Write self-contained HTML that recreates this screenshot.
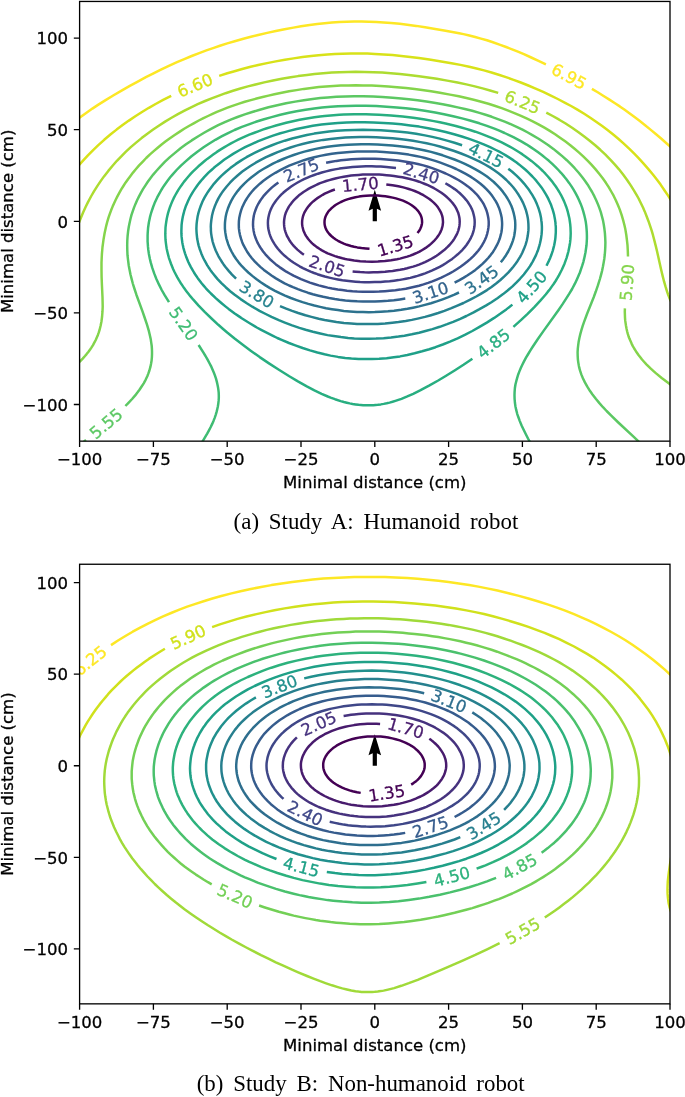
<!DOCTYPE html>
<html lang="en"><head><meta charset="utf-8"><title>Contour plots: minimal distance</title>
<style>html,body{margin:0;padding:0;background:#fff}body{width:685px;height:1097px;overflow:hidden;position:relative}svg{position:absolute;left:0;top:0;display:block;will-change:transform;-webkit-font-smoothing:antialiased}svg text{font-family:"DejaVu Sans","Liberation Sans",sans-serif}svg .cap text{font-family:"Liberation Serif","DejaVu Serif",serif;font-size:22.9px;word-spacing:4.1px;fill:#000}</style></head><body>
<svg width="685" height="1097" viewBox="0 0 685 1097">
<polygon fill="#000" points="372.70,221.30 372.70,208.70 368.50,210.80 374.80,189.80 381.10,210.80 376.90,208.70 376.90,221.30"/>
<clipPath id="clipA"><rect x="79.60" y="1.45" width="590.40" height="439.70"/></clipPath>
<g clip-path="url(#clipA)" fill="none" stroke-width="2.48" stroke-linecap="butt" stroke-linejoin="round">
<path stroke="#440154" d="M369.5 248.7L365.8 248.4L361.5 248.0L357.3 247.4L354.1 246.8L351.0 246.0L346.9 244.8L343.8 243.6L341.1 242.4L338.0 240.8L335.8 239.5L333.4 237.8L331.3 236.0L329.3 234.0L327.9 232.3L326.7 230.4L325.8 228.6L325.1 226.7L324.9 225.8L324.6 224.3L324.5 222.3L324.6 220.3L325.0 218.3L325.4 216.9L325.8 216.0L326.8 214.0L328.0 212.1L329.4 210.3L331.4 208.3L333.5 206.6L335.9 204.8L338.1 203.5L340.9 202.0L342.8 201.2L345.1 200.2L348.1 199.1L351.3 198.2L355.4 197.2L358.9 196.6L362.8 196.1L366.1 195.8L370.3 195.5L373.6 195.5L377.8 195.6L382.1 196.0L385.3 196.3L389.5 197.0L392.7 197.6L395.9 198.4L399.9 199.6L403.0 200.7L406.2 202.1L408.9 203.5L411.7 205.2L413.7 206.7L415.8 208.5L417.5 210.3L419.0 212.3L420.1 214.0L420.5 214.8L421.3 216.7L421.8 218.6L422.0 220.4L422.1 222.4L421.9 223.9L421.7 224.9L421.2 226.8L420.4 228.6L419.2 230.8L417.5 233.0"/>
<path stroke="#481769" d="M386.3 184.5L392.5 185.3L398.4 186.3L403.3 187.4L405.9 188.1L408.8 189.0L411.6 189.9L414.7 191.0L419.1 192.9L420.8 193.8L423.5 195.2L427.1 197.5L429.4 199.0L431.0 200.3L432.3 201.4L434.0 202.9L435.4 204.3L436.7 205.8L438.1 207.6L439.2 209.3L439.8 210.3L440.9 212.3L441.5 213.9L442.2 215.9L442.6 217.6L442.8 219.3L442.9 220.5L443.0 222.3L442.8 224.0L442.6 225.8L442.1 227.7L441.6 229.4L441.1 230.5L440.3 232.4L439.3 234.1L438.2 235.8L436.8 237.8L435.3 239.5L433.8 241.2L432.5 242.4L430.9 243.9L429.3 245.2L427.9 246.3L425.7 247.9L421.9 250.2L419.5 251.6L417.4 252.6L413.1 254.5L410.3 255.6L407.2 256.6L402.6 257.9L400.0 258.6L397.0 259.2L391.1 260.2L384.9 261.0L380.9 261.3L377.9 261.5L371.9 261.7L365.9 261.6L360.2 261.2L354.2 260.5L348.3 259.6L345.3 259.0L342.4 258.3L337.8 257.0L335.0 256.1L332.4 255.2L327.7 253.3L325.9 252.5L323.3 251.1L321.5 250.1L319.4 248.8L317.3 247.4L315.5 246.1L314.1 245.0L312.2 243.3L311.2 242.3L309.5 240.5L308.0 238.7L307.0 237.3L306.0 235.9L305.0 234.1L304.2 232.3L303.4 230.5L302.9 228.5L302.5 226.8L302.2 225.1L302.1 223.9L302.1 222.1L302.2 220.4L302.5 218.6L302.9 216.7L303.5 214.8L304.2 213.1L304.7 212.0L305.7 210.3L306.9 208.4L308.1 206.8L309.1 205.6L310.6 203.9L311.6 202.9L313.5 201.2L315.6 199.5L317.0 198.4L320.4 196.2L322.7 194.8L324.7 193.7L326.5 192.9L329.3 191.6L332.0 190.5L334.9 189.5"/>
<path stroke="#472c7a" d="M303.9 254.8L301.8 253.3L299.5 251.4L297.4 249.6L295.4 247.7L293.7 245.9L292.1 244.0L290.6 242.0L289.1 239.7L288.0 237.7L287.0 236.0L286.0 233.4L285.3 231.3L284.7 229.3L284.3 226.9L284.1 224.9L284.0 222.1L284.2 219.7L284.5 217.7L284.9 215.7L285.7 213.1L286.5 211.2L287.7 208.8L288.9 206.6L290.1 204.9L291.6 202.9L293.0 201.2L294.7 199.4L296.7 197.5L298.7 195.6L301.1 193.8L303.5 192.0L306.3 190.2L308.4 188.9L311.2 187.3L314.4 185.8L317.1 184.5L320.1 183.2L323.1 182.1L326.2 181.0L329.3 180.1L332.4 179.2L336.3 178.2L340.2 177.4L343.7 176.7L346.9 176.2L351.1 175.6L354.3 175.3L358.6 174.9L362.8 174.6L366.1 174.5L370.3 174.4L374.8 174.5L379.1 174.6L382.3 174.8L386.6 175.2L390.0 175.5L394.0 176.0L398.5 176.7L402.4 177.3L405.6 178.0L410.0 179.0L413.1 179.9L416.3 180.8L419.1 181.7L422.2 182.8L425.0 184.0L427.9 185.2L430.9 186.6L434.0 188.2L436.6 189.7L439.0 191.2L441.4 192.8L444.1 194.8L446.2 196.5L448.2 198.3L450.0 200.1L451.7 202.0L453.3 203.9L454.6 205.7L455.8 207.7L456.7 209.4L457.5 211.2L458.3 213.1L459.0 215.8L459.4 217.7L459.6 219.5L459.7 221.4L459.6 223.9L459.4 225.9L458.9 228.4L458.3 230.6L457.6 232.4L456.5 234.9L455.5 236.7L454.4 238.6L453.0 240.7L451.4 242.7L449.5 245.0L447.6 246.9L445.7 248.7L443.5 250.6L441.3 252.3L438.7 254.3L436.6 255.7L433.9 257.4L431.1 259.0L428.0 260.7L425.0 262.1L422.0 263.4L419.0 264.6L416.2 265.6L413.1 266.6L410.2 267.4L407.1 268.3L404.2 269.0L400.0 269.8L396.8 270.3L392.6 271.0L389.3 271.3L385.1 271.8L377.6 272.2L373.4 272.3L368.9 272.4L364.4 272.3L360.1 272.1L355.6 271.7L352.6 271.4"/>
<path stroke="#423f85" d="M445.4 183.2L448.6 185.1L451.6 187.0L454.7 189.1L457.3 191.1L459.6 193.0L462.3 195.6L464.2 197.6L466.3 200.1L467.8 202.0L469.6 204.8L470.7 206.7L472.0 209.4L473.0 212.0L473.7 214.7L474.2 216.9L474.6 219.6L474.7 222.3L474.6 224.8L474.4 226.8L473.9 229.5L473.2 232.2L472.2 235.0L470.9 237.8L469.9 239.7L468.3 242.3L466.5 245.0L464.8 247.1L462.5 249.8L460.4 251.9L457.8 254.3L454.7 256.9L452.2 258.9L448.7 261.3L445.8 263.3L442.8 265.1L439.7 266.8L435.5 268.9L432.3 270.4L429.3 271.7L425.1 273.4L421.8 274.5L417.5 275.9L414.4 276.8L410.3 277.9L405.9 278.8L402.7 279.4L398.5 280.1L394.0 280.7L389.6 281.2L385.1 281.6L380.6 281.9L374.8 282.1L369.1 282.2L364.6 282.2L360.1 282.0L355.6 281.7L351.1 281.3L346.6 280.8L342.4 280.3L338.0 279.5L333.6 278.6L329.2 277.6L324.8 276.5L321.4 275.5L317.4 274.2L314.1 273.0L310.6 271.6L306.7 269.9L302.9 268.1L299.6 266.3L296.6 264.5L293.4 262.5L290.5 260.5L287.2 257.9L284.7 255.8L282.1 253.4L280.2 251.4L277.9 248.8L276.0 246.2L274.4 243.9L272.9 241.4L271.5 238.7L270.3 235.9L269.4 233.3L268.7 230.4L268.2 228.0L268.0 225.7L267.9 223.0L268.0 220.2L268.4 217.5L269.0 214.8L269.7 212.2L270.7 209.6L271.7 207.5L273.1 204.9L274.9 202.2L276.3 200.2L278.6 197.5L281.2 194.7L283.2 192.8L286.2 190.2L288.6 188.4L291.2 186.5L293.9 184.7L297.2 182.8L300.4 181.0L304.0 179.2L307.0 177.9L310.4 176.4L314.2 175.0L318.0 173.7L321.8 172.5L326.1 171.4L330.5 170.3L334.9 169.4L339.4 168.6L343.8 168.0L348.3 167.4L352.5 167.0L357.0 166.7L361.5 166.4L366.0 166.3L371.8 166.3L376.3 166.4L380.8 166.6L386.5 167.0L391.0 167.4L396.0 167.9"/>
<path stroke="#3b528b" d="M326.1 162.8L331.5 161.7L336.5 160.9L340.9 160.3L346.7 159.7L351.4 159.3L357.1 158.9L362.9 158.7L368.9 158.7L374.9 158.8L380.6 159.0L386.6 159.4L392.4 159.9L398.3 160.6L402.8 161.2L407.5 161.9L413.1 163.0L417.8 164.0L423.4 165.4L427.9 166.8L432.2 168.1L436.9 169.8L441.3 171.6L445.7 173.5L450.0 175.5L454.5 177.8L458.4 180.0L461.6 182.0L464.9 184.2L467.9 186.4L470.8 188.8L473.4 191.1L476.1 193.8L478.4 196.4L480.5 199.2L482.5 202.1L484.0 204.7L485.4 207.7L486.4 210.2L487.3 213.1L487.9 215.7L488.4 218.5L488.7 221.5L488.7 223.2L488.7 225.0L488.4 227.7L487.9 230.7L487.1 234.1L486.2 236.9L485.0 239.7L483.7 242.4L482.1 245.2L480.3 247.9L478.2 250.7L475.9 253.4L473.4 256.1L470.5 258.9L467.4 261.5L463.9 264.3L460.5 266.8L457.1 269.0L453.1 271.5L449.3 273.6L445.6 275.5L441.3 277.6L436.7 279.6L432.3 281.4L428.1 282.9L423.5 284.4L419.0 285.7L414.6 286.8L410.2 287.8L405.8 288.7L400.1 289.6L395.4 290.2L389.7 290.8L384.9 291.2L379.2 291.6L373.2 291.8L367.4 291.8L362.9 291.7L357.2 291.5L352.5 291.2L347.0 290.7L342.2 290.1L337.8 289.5L332.1 288.5L327.7 287.6L323.1 286.5L318.7 285.4L314.2 284.0L309.9 282.6L305.4 280.9L301.0 279.2L296.7 277.2L293.5 275.7L289.6 273.5L286.3 271.7L283.2 269.6L279.5 267.1L275.9 264.4L273.0 261.9L270.6 259.8L267.8 256.9L265.4 254.3L263.1 251.4L261.2 248.8L259.4 246.0L257.8 243.2L256.3 239.8L255.2 237.0L254.3 234.1L253.6 230.7L253.2 227.7L253.0 224.9L253.1 221.4L253.4 218.5L253.8 215.7L254.7 212.3L255.7 209.5L256.8 206.7L258.3 203.8L260.0 201.0L261.8 198.4L263.9 195.6L266.4 192.8L269.1 190.1L272.0 187.4L275.3 184.8L278.4 182.5"/>
<path stroke="#33638d" d="M405.3 298.6L399.8 299.4L393.9 300.2L387.9 300.8L380.9 301.2L374.9 301.5L368.9 301.6L362.9 301.5L357.2 301.3L351.2 300.9L345.4 300.4L339.5 299.7L334.8 299.0L329.1 298.0L323.2 296.8L318.6 295.7L312.8 294.2L307.8 292.7L302.5 290.9L297.9 289.2L293.0 287.2L289.1 285.5L284.6 283.3L280.2 280.9L275.9 278.4L271.5 275.5L267.4 272.6L263.9 269.9L260.6 267.1L257.7 264.4L254.9 261.6L251.7 258.0L249.4 255.0L247.0 251.5L245.4 248.7L243.5 245.2L242.2 242.2L241.0 238.7L240.0 235.1L239.3 231.4L238.9 228.4L238.8 224.9L238.9 221.1L239.3 217.7L240.1 214.0L241.1 210.4L242.1 207.6L243.8 203.9L245.3 201.0L247.4 197.6L249.4 194.8L251.6 192.0L254.1 189.2L256.7 186.6L259.9 183.7L263.1 181.0L267.2 178.0L270.9 175.5L275.4 172.8L280.2 170.1L284.6 167.8L289.2 165.7L293.8 163.8L299.2 161.8L303.9 160.2L308.5 158.8L314.3 157.3L320.1 155.9L326.0 154.8L331.9 153.8L337.9 153.0L343.9 152.4L349.8 151.9L357.1 151.6L363.1 151.4L369.1 151.4L376.3 151.6L383.6 151.9L389.6 152.4L396.8 153.0L402.8 153.8L408.7 154.6L414.6 155.7L420.5 156.9L425.1 158.0L430.9 159.6L435.2 160.9L440.4 162.7L445.6 164.6L451.4 166.9L456.2 169.0L460.5 171.1L465.3 173.7L470.1 176.4L473.7 178.7L476.9 181.0L480.5 183.8L483.7 186.5L486.4 189.1L489.0 191.9L491.4 194.8L493.4 197.6L494.5 199.3L495.7 201.2L497.6 204.7L498.9 207.7L500.1 211.2L501.1 214.9L501.7 217.8L502.0 221.3L502.1 223.0L502.1 225.0L501.9 228.5L501.7 230.5L501.4 232.2L500.7 235.2L499.7 238.8L498.3 242.3L496.9 245.2L495.0 248.7L493.0 251.9L490.6 255.1L488.2 258.0L485.5 260.9L482.5 263.9L478.9 267.0L475.4 269.9L471.8 272.5L467.6 275.3L463.4 277.9L459.0 280.4L454.6 282.7"/>
<path stroke="#2c728e" d="M459.0 292.5L454.4 294.6L448.4 297.1L442.6 299.3L436.7 301.4L431.0 303.2L424.9 304.9L419.1 306.4L413.0 307.7L407.4 308.8L401.2 309.8L394.0 310.7L388.0 311.3L380.8 311.8L374.8 312.1L368.8 312.2L363.0 312.1L357.0 311.9L349.8 311.4L343.8 310.9L337.9 310.1L331.9 309.2L326.0 308.2L320.1 306.9L314.3 305.5L308.3 303.9L302.5 302.1L296.6 300.1L290.8 298.0L285.0 295.6L280.2 293.4L275.0 290.8L270.0 288.1L265.5 285.4L261.1 282.5L256.6 279.3L252.3 275.9L248.3 272.5L244.8 269.2L241.9 266.2L238.8 262.6L236.1 259.0L233.6 255.2L231.5 251.5L229.7 247.9L228.2 244.2L227.0 240.4L226.4 238.5L225.9 236.1L225.3 232.4L224.9 228.6L224.9 224.9L225.0 222.4L225.2 220.4L225.7 216.7L226.1 214.7L226.7 212.3L227.9 208.5L229.4 204.7L231.1 201.1L233.2 197.4L235.5 193.9L237.6 191.1L240.7 187.4L244.1 183.8L247.2 180.9L251.2 177.5L255.2 174.4L258.8 171.8L263.3 169.0L268.0 166.3L272.9 163.7L277.4 161.5L283.1 159.0L287.8 157.1L293.6 155.0L299.3 153.1L304.4 151.6L310.0 150.2L315.8 148.9L321.7 147.8L327.6 146.8L333.6 146.1L340.8 145.3L348.0 144.8L354.3 144.4L361.5 144.3L369.0 144.3L377.5 144.5L385.0 144.9L392.5 145.5L399.7 146.2L405.9 147.0L413.1 148.1L419.0 149.2L425.1 150.5L431.0 151.9L436.7 153.5L442.7 155.3L448.4 157.3L454.5 159.5L459.8 161.7L464.9 163.9L470.0 166.4L475.1 169.1L479.5 171.6L482.9 173.7L487.0 176.5L490.3 179.1L493.8 182.0L497.2 185.3L500.1 188.4L503.0 191.9L505.2 194.9L507.5 198.5L509.6 202.2L511.3 205.8L512.6 209.3L513.7 213.2L514.5 216.8L515.1 220.5L515.2 222.3L515.3 224.8L515.2 228.5L514.8 232.3L514.2 236.0L513.7 237.9L513.0 240.3L511.7 244.1L510.1 247.8L508.2 251.5L506.0 255.2L503.4 258.9L500.8 262.2"/>
<path stroke="#26828e" d="M236.1 278.6L232.0 274.6L228.7 270.9L225.5 267.0L223.6 264.4L222.3 262.5L219.9 258.7L218.5 256.3L217.5 254.3L215.7 250.5L214.7 247.9L214.0 246.0L213.4 244.1L212.6 241.5L211.8 237.6L211.4 235.1L211.1 233.1L210.9 230.6L210.9 228.6L210.8 226.6L210.9 224.1L211.1 222.1L211.4 219.6L212.0 215.7L212.6 213.2L213.1 211.3L213.7 209.4L214.6 206.8L216.2 202.9L217.4 200.4L218.4 198.4L220.6 194.7L221.8 192.9L223.7 190.2L226.7 186.5L230.0 182.7L233.5 179.2L237.6 175.5L242.0 171.8L246.3 168.7L250.8 165.7L255.7 162.7L260.8 159.9L266.1 157.2L272.1 154.5L277.6 152.1L283.7 149.8L290.5 147.5L296.5 145.6L302.5 144.0L309.8 142.3L315.7 141.1L323.1 139.9L330.6 138.9L337.8 138.2L345.3 137.6L352.5 137.3L360.0 137.1L367.5 137.1L376.3 137.3L383.8 137.7L392.5 138.3L399.7 139.0L405.9 139.7L413.1 140.8L420.5 142.1L426.6 143.3L433.7 144.9L439.8 146.5L447.2 148.7L454.3 151.0L461.1 153.5L467.6 156.1L473.8 158.8L479.7 161.6L485.0 164.5L490.0 167.4L494.3 170.3L498.8 173.5L502.5 176.5L506.4 180.0L510.1 183.8L513.2 187.3L516.1 191.1L518.6 194.8L520.9 198.7L522.2 201.1L523.1 202.9L524.7 206.8L525.6 209.2L526.2 211.1L527.2 215.0L527.7 217.4L528.0 219.4L528.2 221.4L528.4 223.9L528.5 227.9L528.4 230.4L528.2 232.1L527.7 236.1L527.2 238.6L526.8 240.5L525.7 244.4L524.1 248.6L522.4 252.5L521.4 254.5L520.1 256.9L517.7 260.7L515.0 264.6L513.1 267.0L511.5 268.9L508.2 272.6L504.6 276.2L500.4 280.0L496.1 283.5L491.5 287.0L487.0 290.1L481.2 293.6L476.2 296.5L470.7 299.4L463.5 303.0L457.4 305.7L451.4 308.2L444.4 310.9L438.2 313.0L431.0 315.2L425.0 316.9L417.7 318.6L411.8 319.9L405.7 321.0L398.5 322.1L392.3 322.8L385.1 323.5L377.8 323.9L371.8 324.1L364.6 324.1L357.1 323.9L351.1 323.5L343.9 322.9L336.4 322.0L330.5 321.0L324.6 320.0L318.7 318.7L311.4 316.9L305.4 315.3L298.2 313.0L292.1 310.9L286.2 308.7L280.0 306.1"/>
<path stroke="#21918c" d="M508.3 168.7L512.2 171.8L516.5 175.6L518.3 177.4L520.8 179.9L524.3 183.8L525.8 185.7L527.8 188.3L529.3 190.3L530.9 192.8L532.1 194.7L533.8 197.6L535.2 200.2L536.0 202.0L536.9 204.1L537.9 206.6L538.6 208.5L539.4 211.2L540.0 213.1L540.6 215.8L541.0 217.7L541.3 220.2L541.6 222.2L541.8 224.9L541.9 226.9L541.9 229.4L541.8 231.4L541.6 234.2L541.0 238.6L540.6 240.6L540.0 243.3L539.3 245.9L538.7 247.9L537.9 250.5L537.0 252.6L536.0 255.1L535.0 257.1L532.7 261.6L531.6 263.5L530.0 266.1L528.6 268.1L526.8 270.6L523.8 274.5L520.0 278.8L516.3 282.6L512.2 286.6L507.6 290.5L503.1 294.1L497.4 298.2L491.4 302.2L485.8 305.6L479.5 309.2L473.6 312.4L466.4 316.0L460.3 318.8L453.2 321.8L447.1 324.2L439.8 326.8L432.4 329.1L426.4 330.8L419.1 332.7L411.8 334.3L404.4 335.7L398.5 336.6L391.0 337.5L383.6 338.2L376.1 338.6L368.8 338.7L361.6 338.7L354.3 338.4L348.1 337.9L340.9 337.1L333.7 336.1L327.5 335.1L320.2 333.5L312.9 331.8L305.6 329.8L299.4 327.9L292.1 325.4L284.8 322.6L278.8 320.2L271.5 316.9L265.7 314.0L259.5 310.8L252.3 306.7L246.4 303.0L240.6 299.1L234.7 294.8L230.2 291.2L225.7 287.2L221.4 283.1L217.6 279.1L215.5 276.6L213.8 274.5L212.2 272.5L210.3 269.9L208.5 267.2L207.3 265.3L204.7 260.7L203.3 258.0L202.4 256.0L201.3 253.4L200.3 250.6L199.6 248.7L198.8 246.1L198.1 243.4L197.7 241.2L197.2 238.8L196.9 236.0L196.7 234.1L196.5 231.3L196.4 228.6L196.5 226.1L196.6 224.1L196.9 221.3L197.3 218.6L197.6 216.6L198.2 213.9L198.9 211.3L199.5 209.4L200.4 206.8L201.2 204.7L202.3 202.1L203.2 200.1L204.6 197.4L206.1 194.8L207.3 192.9L209.1 190.2L210.4 188.4L211.9 186.4L213.9 183.8L217.2 180.1L219.1 178.1L221.6 175.6L225.9 171.8L230.3 168.1L233.1 166.0L235.9 163.9L240.5 160.9L243.5 159.0L246.5 157.2L252.2 154.1L258.2 151.1L264.8 148.1L271.3 145.5L277.4 143.2L284.8 140.7L292.2 138.5L299.5 136.7L306.8 135.0L314.2 133.6L321.6 132.5L329.0 131.5L336.5 130.8L345.2 130.2L354.2 129.9L363.0 129.8L371.7 129.9L380.7 130.3L391.0 130.9L399.9 131.7L407.4 132.6L416.1 133.8L424.9 135.4L432.3 136.9L439.8 138.6L447.1 140.6L454.5 142.8L462.1 145.3"/>
<path stroke="#1fa088" d="M512.4 304.6L506.3 309.4L500.2 313.8L494.2 317.9L486.8 322.6L479.5 326.9L472.3 331.0L464.8 334.9L457.6 338.3L450.0 341.6L442.8 344.5L435.5 347.2L429.3 349.2L422.1 351.3L414.6 353.3L407.3 355.0L400.0 356.4L393.8 357.3L386.6 358.2L379.1 358.8L371.9 359.1L365.9 359.1L358.6 359.0L351.4 358.5L345.2 357.9L338.0 356.9L330.6 355.6L324.5 354.3L317.4 352.5L310.0 350.4L302.6 348.0L295.3 345.4L289.0 343.0L281.6 339.9L277.3 338.0L273.0 335.9L265.6 332.2L261.2 329.9L256.8 327.5L249.3 323.0L242.1 318.5L239.0 316.4L234.7 313.4L228.6 308.9L225.7 306.6L222.2 303.8L219.0 301.0L216.0 298.3L210.9 293.5L208.3 290.8L205.9 288.3L203.6 285.6L201.8 283.5L199.7 280.7L197.6 277.9L195.8 275.3L194.0 272.5L192.5 269.9L190.9 267.1L189.5 264.4L188.2 261.7L187.1 259.0L186.0 256.2L185.0 253.3L184.2 250.7L183.4 247.8L182.8 245.1L182.3 242.4L181.9 239.4L181.6 236.7L181.4 233.4L181.4 230.4L181.5 227.7L181.6 224.9L181.9 222.2L182.3 219.5L182.8 216.8L183.5 213.9L184.2 211.2L185.0 208.6L186.0 205.7L187.2 203.0L188.4 200.2L189.7 197.5L191.3 194.7L192.8 192.1L194.6 189.4L196.6 186.5L198.0 184.5L200.1 181.9L202.3 179.3L204.2 177.2L206.6 174.7L208.5 172.7L211.5 170.0L213.9 167.8L216.8 165.4L221.3 161.9L224.1 159.8L227.2 157.7L233.1 153.9L238.9 150.5L245.1 147.2L251.2 144.3L258.3 141.2L265.5 138.3L273.0 135.7L280.4 133.3L284.8 132.1L289.1 130.9L296.6 129.0L305.4 127.2L312.8 125.8L321.5 124.6L329.2 123.7L337.9 123.0L346.6 122.5L355.6 122.3L364.4 122.3L373.4 122.5L383.6 122.9L392.6 123.5L401.3 124.3L410.3 125.4L419.2 126.6L428.1 128.2L436.9 130.0L445.7 132.0L454.1 134.3L461.8 136.5L469.2 138.9L476.7 141.6L483.7 144.4L490.1 147.2L495.9 150.0L499.3 151.7L502.6 153.5L505.8 155.4L508.6 157.1L513.6 160.4L516.6 162.6L519.0 164.4L523.7 168.2L525.8 170.0L528.3 172.4L532.4 176.5L534.3 178.5L536.4 180.9L538.0 182.9L540.0 185.4L541.5 187.4L543.3 190.1L545.0 192.9L546.2 194.8L547.6 197.4L548.6 199.4L549.9 202.2L551.0 204.7L551.7 206.8L552.6 209.4L553.4 212.1L554.1 214.7L554.5 216.9L555.0 219.6L555.4 222.1L555.6 224.9L555.8 226.9L555.8 229.6L555.8 232.4L555.6 235.1L555.4 237.8L555.1 240.3L554.7 242.5L554.2 245.2L553.5 247.9L552.8 250.6L551.2 255.3L550.2 257.9L549.0 260.6L547.7 263.3L546.5 265.8"/>
<path stroke="#28ae80" d="M472.4 358.8L463.5 364.8L454.6 370.5L445.7 376.0L438.2 380.5L429.5 385.4L420.6 390.1L413.2 393.8L407.3 396.4L401.5 398.8L398.4 399.9L395.4 400.9L392.5 401.8L389.6 402.6L386.7 403.3L383.7 403.9L380.8 404.4L377.8 404.8L373.3 405.2L368.8 405.3L366.1 405.3L363.1 405.2L358.6 404.8L355.6 404.4L352.6 404.0L349.7 403.4L346.8 402.7L343.9 402.0L340.7 401.1L335.0 399.2L330.6 397.6L327.8 396.5L321.6 393.8L314.4 390.4L306.8 386.4L297.9 381.4L289.3 376.3L278.9 369.8L268.6 363.1L259.7 357.1L250.7 350.7L242.1 344.3L234.6 338.5L227.2 332.5L222.8 328.7L218.3 324.8L211.0 318.0L204.9 312.1L198.6 305.6L193.3 299.7L190.5 296.4L188.2 293.5L186.2 290.9L184.1 288.1L182.3 285.4L180.5 282.7L178.8 279.9L177.2 277.1L175.8 274.5L174.4 271.8L173.1 269.0L172.0 266.3L170.9 263.5L169.9 260.7L168.9 257.8L168.0 254.4L167.3 251.5L166.7 248.8L166.3 246.1L165.9 243.1L165.5 239.7L165.4 236.9L165.3 233.9L165.4 230.7L165.5 227.7L165.8 224.9L166.3 221.5L166.8 218.5L167.4 215.8L168.1 212.9L169.1 209.6L170.1 206.7L171.2 203.9L172.3 201.2L173.6 198.4L175.1 195.5L176.6 192.9L178.2 190.1L180.0 187.4L181.9 184.7L183.9 181.9L186.1 179.2L188.4 176.5L190.9 173.7L193.1 171.4L195.5 169.1L198.4 166.3L201.4 163.7L204.6 161.0L207.2 158.9L210.6 156.4L213.2 154.5L216.9 151.9L220.0 149.9L224.1 147.4L227.3 145.5L231.0 143.4L234.6 141.5L238.2 139.7L242.0 137.9L249.3 134.7L253.8 133.0L258.2 131.3L262.7 129.7L266.9 128.3L271.5 126.9L276.0 125.5L281.6 124.0L286.2 122.8L295.2 120.7L299.6 119.8L305.3 118.7L314.4 117.3L320.1 116.5L324.6 116.0L333.5 115.2L339.3 114.8L343.8 114.6L354.3 114.3L360.0 114.3L366.0 114.3L372.0 114.5L379.0 114.8L391.0 115.5L402.7 116.5L413.2 117.7L423.5 119.3L433.9 121.1L439.8 122.3L445.6 123.5L455.8 126.0L460.4 127.3L466.2 128.9L470.8 130.3L475.3 131.7L479.5 133.2L484.0 134.8L488.4 136.6L492.8 138.4L497.4 140.4L501.7 142.4L505.5 144.3L509.3 146.3L512.3 148.0L516.4 150.5L519.6 152.5L522.5 154.4L525.4 156.4L528.8 158.9L531.4 160.9L534.7 163.6L537.7 166.2L540.1 168.4L542.8 171.0L545.4 173.7L547.7 176.3L549.5 178.4L551.8 181.1L553.9 183.9L555.8 186.5L557.5 189.2L559.3 192.0L560.9 194.8L562.7 198.4L564.0 201.1L565.1 203.9L566.2 206.7L567.1 209.3L567.9 212.2L568.6 215.1L569.4 218.5L569.8 221.2L570.2 224.2L570.5 227.7L570.6 230.4L570.7 233.2L570.6 236.2L570.4 239.4L570.1 242.4L569.7 245.1L569.0 248.6L568.4 251.5L567.6 254.4L566.6 257.8L565.6 260.6L564.6 263.4L563.4 266.2L561.8 269.8L560.4 272.5L558.9 275.4L557.3 278.2L555.6 281.0L553.8 283.7L551.9 286.4L549.9 289.2L547.7 291.9L545.7 294.5L543.1 297.5L540.1 300.9L534.1 307.3L527.6 313.9L520.9 320.2L513.4 326.9"/>
<path stroke="#3fbc73" d="M200.5 444.8L203.2 440.4L205.4 436.7L207.2 433.7L209.1 430.2L210.6 427.3L212.2 423.9L213.5 420.9L214.6 418.1L215.8 414.6L216.6 411.9L217.3 409.0L217.9 406.3L218.3 403.6L218.6 400.9L218.8 398.1L218.8 395.4L218.7 392.6L218.4 389.9L218.0 387.2L217.4 384.2L216.8 381.6L216.0 378.7L214.9 375.4L213.8 372.5L212.5 369.6L211.0 366.1L209.5 363.2L207.6 359.7L205.5 356.0L203.3 352.4L198.6 345.0M169.0 302.2L164.8 295.4L161.7 290.0L158.9 284.4L156.4 279.0L154.2 273.4L152.3 267.9L150.7 262.4L149.9 259.0L149.3 256.1L148.8 253.4L148.3 249.9L148.0 246.9L147.8 244.2L147.6 241.4L147.6 238.7L147.6 235.9L147.7 233.2L147.9 230.4L148.1 227.7L148.5 225.0L148.9 222.3L149.5 219.6L150.1 216.6L150.8 214.0L151.7 211.1L152.6 208.5L153.6 205.7L154.6 203.1L155.8 200.4L157.2 197.4L158.6 194.8L161.3 190.0L162.9 187.4L164.7 184.7L168.1 180.1L170.2 177.3L172.5 174.6L176.6 170.0L181.2 165.3L186.2 160.8L191.5 156.2L197.4 151.7L203.6 147.3L209.4 143.5L215.4 139.8L222.0 136.2L228.6 132.8L234.5 130.0L241.9 126.9L248.9 124.3L256.7 121.5L264.1 119.2L271.6 117.1L280.3 114.8L289.0 112.8L296.6 111.3L305.5 109.7L314.2 108.4L321.9 107.5L330.6 106.7L338.1 106.2L346.8 105.9L355.8 105.7L365.8 105.8L376.3 106.1L386.6 106.7L396.8 107.4L405.7 108.3L414.7 109.3L424.8 110.8L435.2 112.5L444.0 114.2L453.1 116.2L462.1 118.4L470.8 120.7L479.4 123.3L486.9 125.9L494.4 128.7L499.3 130.7L504.6 133.0L509.1 135.1L513.4 137.2L518.0 139.6L521.7 141.7L526.3 144.3L529.9 146.6L534.2 149.5L538.5 152.6L542.1 155.3L545.6 158.1L548.9 160.8L552.0 163.7L555.6 167.1L558.4 170.0L561.0 172.8L564.1 176.4L566.4 179.3L569.1 182.9L571.5 186.4L573.4 189.4L575.4 192.8L577.4 196.6L579.1 200.2L580.7 203.9L582.1 207.6L583.2 211.2L584.2 214.8L585.1 218.5L585.8 222.1L586.3 225.9L586.6 229.3L586.8 232.3L586.9 235.8L586.9 238.8L586.7 242.3L586.5 245.3L586.0 248.8L585.5 252.3L584.9 255.2L584.1 258.9L583.4 261.8L582.3 265.4L581.1 268.9L579.9 272.5L578.6 275.5L577.1 278.9L574.9 283.7L572.1 289.0L569.3 293.7L565.8 299.2L562.4 304.4L558.4 310.2L543.4 331.1L537.7 339.3L532.7 346.8L530.4 350.4L528.2 354.0L526.0 357.7L524.0 361.4L522.2 365.0L520.8 368.0L519.4 371.4L518.3 374.2L517.4 377.1L516.4 380.7L515.5 384.3L514.9 388.0L514.6 391.8L514.5 395.3L514.6 399.0L514.9 402.5L515.4 406.2L516.2 409.9L517.2 413.8L518.4 417.3L519.8 421.1L521.6 425.5L523.4 429.3L525.6 433.8L528.0 438.5L531.5 444.8"/>
<path stroke="#5cc863" d="M80.2 444.8L86.0 440.0M125.4 406.0L128.7 402.6L132.1 399.0L135.2 395.4L137.4 392.6L139.5 389.8L141.8 386.3L143.7 383.3L145.6 379.8L147.3 376.2L148.4 373.4L149.4 370.5L150.4 366.9L151.0 364.0L151.6 360.5L151.9 357.1L152.0 354.1L152.0 351.3L151.9 348.6L151.7 345.8L151.3 343.1L150.8 339.6L150.2 336.7L149.5 333.8L148.7 330.4L147.0 324.6L144.6 317.5L142.4 311.1L136.4 294.7L134.2 288.0L132.8 283.5L131.6 278.9L130.5 274.5L129.6 269.9L128.7 265.2L128.0 259.7L127.5 255.2L127.3 250.5L127.2 245.3L127.3 240.5L127.6 236.0L128.1 231.3L128.8 226.8L129.5 223.2L130.5 218.8L131.5 214.9L132.7 211.3L134.0 207.6L135.5 203.9L137.1 200.2L138.9 196.6L140.9 192.8L143.0 189.2L145.3 185.6L147.8 181.8L150.4 178.2L153.2 174.6L156.3 171.0L160.5 166.4L165.0 161.7L169.9 157.1L175.3 152.6L180.9 148.0L186.0 144.3L191.7 140.4L198.3 136.2L204.5 132.5L211.1 128.8L218.2 125.2L224.3 122.4L230.7 119.6L237.5 117.0L244.8 114.4L252.2 112.0L259.8 109.7L268.5 107.3L277.3 105.2L286.1 103.3L295.2 101.6L303.8 100.2L312.7 98.9L320.2 98.1L327.7 97.4L336.4 96.8L345.4 96.4L354.1 96.3L363.1 96.3L373.1 96.6L382.4 97.0L392.6 97.7L401.3 98.4L408.8 99.2L417.5 100.2L426.4 101.5L434.1 102.7L442.7 104.2L450.3 105.7L458.8 107.6L464.9 109.0L472.2 110.8L479.4 112.9L485.6 114.8L491.8 116.8L498.6 119.3L504.7 121.7L510.7 124.2L516.6 126.8L522.5 129.7L527.8 132.5L532.8 135.3L538.6 138.7L543.2 141.7L548.4 145.2L553.4 148.9L558.1 152.7L562.5 156.4L566.8 160.2L571.1 164.4L574.7 168.2L578.7 172.7L582.3 177.2L585.1 181.0L587.7 184.7L589.9 188.3L592.1 192.0L594.4 196.4L596.2 200.3L597.8 203.9L599.5 208.4L600.8 212.2L601.8 215.8L603.0 220.4L603.8 224.8L604.4 228.8L604.9 233.2L605.2 237.7L605.4 242.2L605.3 246.7L605.1 250.5L604.8 254.5L604.3 258.7L603.7 262.4L603.0 266.3L602.1 270.7L601.1 274.6L599.9 279.0L597.9 285.4L595.7 291.8L593.7 297.2L587.1 313.7L584.0 322.1L582.7 325.9L581.4 330.2L580.3 334.1L579.5 337.5L578.7 341.4L578.2 345.1L577.8 348.6L577.6 352.3L577.7 356.1L577.9 359.6L578.3 362.6L578.9 366.0L579.3 367.9L580.0 370.4L581.3 374.4L582.9 378.3L584.9 382.4L587.3 386.7L589.9 390.8L592.5 394.4L596.0 399.0L599.2 402.9L603.0 407.2L606.6 411.0L611.0 415.4L618.3 422.5L634.3 437.4L642.0 444.8"/>
<path stroke="#84d44b" d="M73.7 367.3L78.1 363.2L80.8 360.6L82.7 358.6L85.0 356.0L86.6 354.1L88.5 351.7L90.1 349.5L91.4 347.6L93.0 345.1L94.3 342.7L95.6 340.2L96.7 337.7L97.9 334.9L98.8 332.4L99.5 330.2L100.6 325.8L101.5 321.2L102.1 316.5L102.5 311.2L102.7 306.5L102.6 301.7L102.5 297.2L101.9 284.5L101.6 277.0L101.5 269.7L101.5 262.5L101.7 258.0L101.9 254.2L102.5 247.0L103.0 243.3L103.5 239.6L104.6 233.2L105.4 229.5L106.4 225.1L107.4 221.3L108.5 217.7L109.8 213.9L111.1 210.3L112.6 206.6L114.1 203.2L115.6 200.0L117.4 196.4L119.3 192.9L121.4 189.2L123.1 186.5L125.5 182.7L128.0 179.2L130.1 176.4L133.0 172.6L136.0 169.0L139.1 165.4L142.6 161.8L146.2 158.0L150.0 154.4L154.0 150.9L157.4 148.0L161.6 144.5L165.4 141.6L169.6 138.5L174.3 135.2L179.8 131.6L184.2 128.8L188.9 126.0L193.7 123.3L198.8 120.5L203.5 118.1L208.0 116.0L212.5 113.9L216.9 111.9L222.6 109.6L227.5 107.7L233.2 105.6L239.1 103.6L244.8 101.8L250.8 100.1L256.6 98.5L262.7 97.0L268.5 95.6L274.4 94.3L281.7 92.7L289.1 91.3L296.5 90.1L303.9 88.9L311.4 88.0L318.8 87.1L326.0 86.5L333.5 86.0L340.8 85.6L348.3 85.4L355.8 85.3L363.0 85.4L371.8 85.6L380.5 86.0L388.3 86.5L397.0 87.2L406.0 88.0L414.7 89.0L422.1 90.0L431.0 91.3L439.9 92.7L450.0 94.6L458.8 96.3L466.4 98.0L473.7 99.8L481.2 101.8L488.4 103.8L494.6 105.8L501.7 108.2L508.9 110.9L515.0 113.3L521.0 115.9L527.1 118.7L532.7 121.4L538.5 124.4L544.4 127.7L549.4 130.6L555.1 134.2L560.4 137.9L565.5 141.6L570.3 145.2L574.9 149.0L579.1 152.6L583.2 156.3L587.8 160.8L591.4 164.6L595.4 169.1L599.2 173.8L602.7 178.3L605.9 182.8L608.7 187.2L611.5 192.0L613.6 195.7L615.8 200.2L617.8 204.8L619.7 209.4L621.6 214.9L623.2 220.4L624.4 225.0L625.4 229.6L626.3 235.0L626.9 239.8L627.5 245.2L627.8 250.7L628.0 256.5M624.9 308.4L624.8 311.9L624.9 314.6L625.0 317.6L625.2 320.4L625.6 323.1L626.0 325.8L626.5 328.5L627.1 331.2L627.8 333.9L628.6 336.5L629.4 338.6L630.5 341.1L631.6 343.6L632.7 345.9L634.2 348.5L635.4 350.4L636.6 352.3L638.5 355.0L640.5 357.5L642.0 359.5L643.8 361.5L646.4 364.3L650.8 368.7L653.8 371.4L656.1 373.4L661.7 378.0L668.4 383.1L675.9 388.6"/>
<path stroke="#addc30" d="M73.7 238.0L75.9 231.4L78.4 224.1L80.6 218.5L83.2 212.2L85.7 206.8L88.0 202.1L91.0 196.5L94.1 191.1L97.6 185.6L100.8 180.9L104.0 176.4L108.3 170.9L112.8 165.5L116.9 160.8L121.3 156.3L125.9 151.7L130.8 147.1L136.1 142.6L141.6 138.1L146.7 134.2L152.8 129.8L158.4 126.0L165.1 121.6L171.1 118.0L177.9 114.2L184.5 110.7L191.6 107.1L197.7 104.2L205.1 101.0L212.3 98.1L219.7 95.3L225.6 93.2L233.0 90.8L240.4 88.5L247.9 86.4L256.6 84.2L264.2 82.4L273.0 80.5L281.8 78.8L290.7 77.3L298.1 76.1L307.0 74.9L314.5 74.0L323.2 73.2L331.9 72.6L339.4 72.2L348.2 71.9L355.7 71.8L364.4 71.9L373.4 72.2L382.1 72.6L390.9 73.2L399.9 74.0L408.8 74.9L419.0 76.2L427.9 77.4L436.8 78.8L447.2 80.6L457.5 82.5L466.3 84.4L473.8 86.1L482.6 88.4L490.0 90.5L498.2 92.9M546.3 112.6L552.7 116.0L559.2 119.7L565.2 123.3L572.1 127.8L578.5 132.2L583.9 136.2L589.7 140.7L595.2 145.3L600.3 149.8L605.2 154.4L610.5 159.8L614.9 164.6L618.8 169.1L623.1 174.6L627.1 180.0L630.9 185.6L633.7 190.1L636.4 194.6L638.6 198.5L640.8 203.0L643.0 207.5L644.7 211.4L646.8 216.7L648.5 221.2L650.1 225.9L651.6 230.4L653.0 235.2L654.4 240.6L655.8 246.1L657.1 251.5L661.1 269.6L662.5 275.4L664.1 281.7L665.7 287.2L667.0 291.3L668.1 294.6L669.2 297.4L670.3 299.9L671.6 302.6L673.0 305.5L674.5 308.2L675.9 310.5"/>
<path stroke="#d8e219" d="M73.7 171.5L78.7 165.5L83.5 160.1L87.9 155.3L93.4 149.8L98.3 145.2L104.2 139.8L110.7 134.3L116.6 129.6L122.6 125.1L128.9 120.6L135.7 116.0L141.6 112.2L148.9 107.8L155.6 104.0L163.6 99.7L171.2 95.9M219.2 75.9L227.3 73.3L234.5 71.2L242.2 69.0L250.6 66.8L258.2 65.0L267.0 63.1L275.8 61.4L284.9 59.8L293.6 58.4L302.5 57.1L311.2 56.0L318.6 55.2L327.4 54.5L334.9 54.0L342.4 53.7L351.1 53.5L358.6 53.5L367.4 53.6L374.9 53.9L383.6 54.4L392.6 55.1L401.3 55.9L410.2 56.9L418.9 58.0L429.3 59.5L439.7 61.2L451.5 63.2L460.4 64.9L469.2 66.8L476.5 68.5L484.0 70.4L491.5 72.5L498.7 74.7L506.0 77.1L513.6 79.8L520.8 82.5L528.3 85.5L535.6 88.6L543.2 91.9L550.4 95.4L557.8 99.0L565.1 102.8L571.1 106.0L577.4 109.6L584.2 113.8L590.3 117.7L596.1 121.7L602.2 126.0L607.2 129.8L612.9 134.3L618.3 138.8L623.5 143.4L629.4 148.9L634.0 153.4L638.6 158.1L643.6 163.6L648.4 169.1L652.9 174.5L657.2 180.0L660.6 184.6L664.4 190.2L668.1 195.6L672.2 202.1L675.9 208.4"/>
<path stroke="#fde725" d="M73.7 122.0L79.5 117.7L85.8 113.2L92.4 108.6L98.0 104.9L105.2 100.4L113.6 95.3L122.0 90.4L129.8 85.9L137.3 81.8L145.9 77.2L153.5 73.4L160.9 69.7L168.3 66.2L177.0 62.2L184.3 59.1L191.7 56.0L199.2 53.1L206.4 50.4L213.8 47.8L219.9 45.8L227.3 43.4L234.7 41.2L243.4 38.7L250.9 36.8L258.2 35.0L267.2 32.9L275.8 31.0L284.6 29.2L293.4 27.6L301.1 26.3L309.7 25.0L317.2 24.0L324.6 23.2L331.9 22.6L339.4 22.1L346.6 21.8L354.1 21.6L361.6 21.5L368.9 21.7L376.4 22.0L383.6 22.4L391.1 23.0L399.8 23.8L407.2 24.7L416.2 25.9L425.1 27.3L433.7 28.7L444.1 30.5L459.1 33.2L463.5 34.1L469.3 35.5L475.2 37.0L480.9 38.6L486.9 40.3L492.9 42.3L500.2 44.8L506.1 47.0L512.1 49.3L517.9 51.7L523.9 54.2L531.2 57.5L538.5 60.9L545.9 64.4M591.9 88.9L597.7 92.3L603.6 96.0L609.4 99.6L615.0 103.2L619.8 106.4L624.3 109.6L629.4 113.2L634.2 116.8L639.2 120.6L645.1 125.2L650.5 129.6L656.1 134.3L661.4 138.8L666.7 143.5L670.8 147.2L675.9 151.9"/>
</g>
<g clip-path="url(#clipA)" font-size="16.55" text-anchor="middle" stroke-width="0.3">
<text fill="#440154" stroke="#440154" transform="translate(395.3 245.8) rotate(-16.6)" y="6.04">1.35</text>
<text fill="#481769" stroke="#481769" transform="translate(360.3 184.2) rotate(-5.3)" y="6.04">1.70</text>
<text fill="#472c7a" stroke="#472c7a" transform="translate(327.2 266.1) rotate(18.4)" y="6.04">2.05</text>
<text fill="#423f85" stroke="#423f85" transform="translate(421.4 173.2) rotate(17.0)" y="6.04">2.40</text>
<text fill="#3b528b" stroke="#3b528b" transform="translate(301.2 170.2) rotate(-22.2)" y="6.04">2.75</text>
<text fill="#33638d" stroke="#33638d" transform="translate(430.5 292.5) rotate(-17.8)" y="6.04">3.10</text>
<text fill="#2c728e" stroke="#2c728e" transform="translate(481.5 279.6) rotate(-35.6)" y="6.04">3.45</text>
<text fill="#26828e" stroke="#26828e" transform="translate(256.9 294.2) rotate(31.8)" y="6.04">3.80</text>
<text fill="#21918c" stroke="#21918c" transform="translate(486.2 155.1) rotate(26.5)" y="6.04">4.15</text>
<text fill="#1fa088" stroke="#1fa088" transform="translate(531.4 286.9) rotate(-48.3)" y="6.04">4.50</text>
<text fill="#28ae80" stroke="#28ae80" transform="translate(493.3 343.4) rotate(-37.8)" y="6.04">4.85</text>
<text fill="#3fbc73" stroke="#3fbc73" transform="translate(183.7 323.7) rotate(54.9)" y="6.04">5.20</text>
<text fill="#5cc863" stroke="#5cc863" transform="translate(106.0 423.4) rotate(-40.3)" y="6.04">5.55</text>
<text fill="#84d44b" stroke="#84d44b" transform="translate(626.8 282.4) rotate(-85.7)" y="6.04">5.90</text>
<text fill="#addc30" stroke="#addc30" transform="translate(522.6 101.8) rotate(22.2)" y="6.04">6.25</text>
<text fill="#d8e219" stroke="#d8e219" transform="translate(194.8 85.1) rotate(-22.6)" y="6.04">6.60</text>
<text fill="#fde725" stroke="#fde725" transform="translate(569.1 76.2) rotate(28.0)" y="6.04">6.95</text>
</g>
<g stroke="#000" stroke-width="1.32" fill="none">
<path d="M79.60 441.15v5.78 M153.40 441.15v5.78 M227.20 441.15v5.78 M301.00 441.15v5.78 M374.80 441.15v5.78 M448.60 441.15v5.78 M522.40 441.15v5.78 M596.20 441.15v5.78 M670.00 441.15v5.78 M79.60 404.51h-5.78 M79.60 312.90h-5.78 M79.60 221.30h-5.78 M79.60 129.70h-5.78 M79.60 38.09h-5.78"/>
<rect x="79.60" y="1.45" width="590.40" height="439.70" stroke-linejoin="miter"/>
</g>
<g font-size="16.55" fill="#000" stroke="#000" stroke-width="0.3">
<text x="79.60" y="465.30" text-anchor="middle">−100</text>
<text x="153.40" y="465.30" text-anchor="middle">−75</text>
<text x="227.20" y="465.30" text-anchor="middle">−50</text>
<text x="301.00" y="465.30" text-anchor="middle">−25</text>
<text x="374.80" y="465.30" text-anchor="middle">0</text>
<text x="448.60" y="465.30" text-anchor="middle">25</text>
<text x="522.40" y="465.30" text-anchor="middle">50</text>
<text x="596.20" y="465.30" text-anchor="middle">75</text>
<text x="670.00" y="465.30" text-anchor="middle">100</text>
<text x="68.03" y="410.80" text-anchor="end">−100</text>
<text x="68.03" y="319.19" text-anchor="end">−50</text>
<text x="68.03" y="227.59" text-anchor="end">0</text>
<text x="68.03" y="135.98" text-anchor="end">50</text>
<text x="68.03" y="44.38" text-anchor="end">100</text>
<text x="374.80" y="487.95" text-anchor="middle">Minimal distance (cm)</text>
<text transform="translate(12.70 221.30) rotate(-90)" text-anchor="middle">Minimal distance (cm)</text>
</g>
<polygon fill="#000" points="372.70,765.73 372.70,753.13 368.50,755.23 374.80,734.23 381.10,755.23 376.90,753.13 376.90,765.73"/>
<clipPath id="clipB"><rect x="79.60" y="564.25" width="590.40" height="439.60"/></clipPath>
<g clip-path="url(#clipB)" fill="none" stroke-width="2.48" stroke-linecap="butt" stroke-linejoin="round">
<path stroke="#440154" d="M360.7 792.9L357.0 792.3L352.6 791.3L349.5 790.4L345.2 788.9L342.2 787.7L338.7 785.9L336.3 784.5L333.6 782.7L332.0 781.5L330.9 780.5L329.1 778.8L327.4 776.9L326.0 774.8L325.0 773.1L324.6 772.1L323.9 770.3L323.5 768.6L323.3 767.6L323.2 765.6L323.2 764.1L323.3 763.1L323.7 761.1L324.0 760.2L324.6 758.5L325.6 756.5L326.1 755.7L327.4 753.8L329.0 751.9L330.8 750.1L331.9 749.1L333.5 747.8L335.1 746.7L336.5 745.7L339.3 744.1L342.3 742.6L345.3 741.3L348.8 740.1L352.6 739.0L355.8 738.2L360.0 737.4L363.2 737.0L367.5 736.6L372.0 736.4L376.2 736.4L380.7 736.6L384.9 737.1L388.2 737.5L392.3 738.4L395.7 739.2L399.8 740.4L402.9 741.6L405.9 742.8L408.8 744.3L411.8 746.1L414.7 748.1L417.1 750.2L418.9 752.0L420.7 754.1L421.7 755.5L422.3 756.6L423.4 758.8L424.2 761.0L424.6 762.9L424.7 763.9L424.7 765.7L424.6 767.7L424.4 768.7L424.0 770.1L423.2 772.2L422.0 774.4L420.5 776.7L418.8 778.6L417.6 779.8L416.1 781.2L413.5 783.1L411.2 784.6"/>
<path stroke="#481b6d" d="M429.3 738.8L431.2 740.1L433.3 741.8L435.2 743.5L436.4 744.7L438.2 746.5L439.6 748.2L441.6 751.1L442.7 752.8L443.7 754.8L444.5 756.6L445.1 758.3L445.5 759.5L445.8 761.2L446.1 762.9L446.2 764.9L446.2 766.7L446.0 768.4L445.6 770.4L445.1 772.1L444.5 774.0L444.0 775.1L443.2 776.7L442.1 778.6L441.0 780.3L439.6 782.1L438.2 783.8L436.8 785.3L435.2 786.8L433.1 788.6L430.9 790.3L429.5 791.3L427.8 792.4L425.0 794.1L423.3 795.1L420.6 796.5L417.9 797.7L415.8 798.6L413.3 799.6L410.7 800.6L405.6 802.1L402.7 802.9L399.8 803.6L396.9 804.2L393.9 804.8L388.0 805.6L382.3 806.2L376.3 806.5L373.3 806.5L369.0 806.5L363.0 806.2L357.0 805.6L351.1 804.7L348.2 804.1L345.2 803.4L342.3 802.7L339.4 801.9L336.3 800.9L333.5 799.9L329.1 798.1L324.6 796.0L321.7 794.4L319.8 793.3L317.2 791.6L315.6 790.5L314.2 789.4L312.3 787.8L311.2 786.8L309.3 784.8L307.8 783.1L306.4 781.4L305.1 779.5L304.1 777.8L303.6 776.7L302.7 774.8L302.1 773.2L301.6 771.3L301.2 769.3L301.0 767.6L300.9 765.8L300.9 763.8L301.1 762.1L301.5 760.3L302.0 758.4L302.5 756.8L303.3 754.9L304.0 753.6L304.8 752.0L306.0 750.1L307.1 748.5L308.4 746.9L309.5 745.6L311.3 743.8L312.9 742.2L314.4 740.9L315.8 739.8L318.0 738.2L320.1 736.8L322.3 735.6L324.7 734.2L327.6 732.8L332.0 730.9L336.9 729.1L339.5 728.3L342.4 727.5L345.3 726.8L348.3 726.1L351.2 725.6L354.2 725.1L360.1 724.3L364.4 724.0L367.4 723.8L373.4 723.7L376.4 723.7L380.1 723.9"/>
<path stroke="#46327e" d="M343.6 716.0L346.8 715.5L351.0 714.8L354.3 714.4L358.5 714.0L361.7 713.8L366.0 713.6L370.2 713.5L374.8 713.5L379.3 713.6L383.5 713.8L386.7 714.1L391.0 714.5L395.4 715.0L398.4 715.5L402.6 716.3L405.8 716.9L410.2 718.0L413.1 718.7L416.2 719.7L419.8 720.8L423.5 722.2L426.5 723.4L429.5 724.8L432.4 726.2L435.3 727.7L437.9 729.2L440.6 731.0L443.1 732.6L445.7 734.6L447.9 736.3L450.1 738.3L451.9 740.1L453.6 741.9L455.2 743.8L457.2 746.4L458.4 748.3L459.5 750.3L460.9 752.9L461.8 755.2L462.6 757.4L463.1 759.3L463.5 761.3L463.7 763.8L463.8 765.8L463.7 767.8L463.4 770.3L463.0 772.2L462.2 774.8L461.5 776.7L460.2 779.4L459.1 781.4L457.9 783.3L456.1 785.7L454.5 787.6L452.8 789.5L450.8 791.4L448.8 793.3L446.7 795.0L444.1 797.0L441.2 799.0L438.4 800.7L435.4 802.4L432.3 804.0L429.4 805.4L426.4 806.8L423.4 808.0L419.1 809.5L416.0 810.5L412.7 811.6L408.8 812.6L405.7 813.4L401.5 814.2L398.3 814.8L394.1 815.5L390.9 815.9L386.6 816.4L382.4 816.7L379.2 816.9L374.9 817.1L370.4 817.1L365.9 817.0L361.6 816.7L358.4 816.5L354.2 816.1L349.7 815.5L346.7 815.0L342.8 814.3L339.4 813.6L335.0 812.5L332.1 811.7L329.0 810.8L325.7 809.7L321.7 808.2L318.7 807.0L315.7 805.6L312.8 804.2L309.9 802.7L307.1 801.0L304.8 799.5L302.3 797.8L299.9 796.0L297.6 794.1L295.2 791.9L293.2 789.7L291.5 787.8L290.0 785.8L288.1 783.1L287.0 781.2L285.8 778.7L284.9 776.7L284.2 774.8L283.6 772.4L283.2 770.4L282.9 768.4L282.8 765.9L282.9 763.9L283.0 761.9L283.5 759.4L284.0 757.3L284.9 754.6L285.9 752.1L286.9 750.1L288.4 747.5L289.7 745.6L291.1 743.6L293.2 741.1L295.1 739.1L296.9 737.3"/>
<path stroke="#3f4788" d="M283.5 798.9L281.3 796.8L278.7 794.1L276.5 791.5L274.5 788.9L273.1 786.8L271.4 784.0L270.1 781.3L268.9 778.6L268.0 775.7L267.3 773.0L266.8 770.3L266.6 768.3L266.5 765.8L266.6 763.1L267.0 760.4L267.5 757.7L268.3 754.8L269.3 751.9L270.5 749.2L271.9 746.5L273.6 743.7L275.4 741.1L277.4 738.5L279.2 736.4L281.8 733.7L283.8 731.8L286.4 729.5L289.4 727.2L292.2 725.1L295.8 722.8L299.0 720.9L302.5 719.0L306.1 717.2L310.0 715.5L313.0 714.3L317.2 712.7L321.7 711.2L326.1 710.0L330.2 708.9L334.1 708.1L339.2 707.1L343.7 706.3L348.1 705.7L352.6 705.2L357.1 704.8L361.6 704.5L366.1 704.4L371.9 704.3L377.6 704.4L382.1 704.5L386.6 704.8L391.1 705.2L395.6 705.7L400.0 706.3L404.5 707.0L409.6 708.0L413.3 708.8L417.7 709.9L422.0 711.1L426.5 712.6L430.8 714.1L434.0 715.4L438.1 717.2L441.3 718.7L445.5 720.9L448.6 722.6L451.5 724.5L454.5 726.4L457.5 728.6L460.4 731.0L463.2 733.4L465.4 735.5L467.8 738.1L469.6 740.2L471.7 743.0L473.5 745.7L475.0 748.3L476.4 751.2L477.5 753.7L478.4 756.6L479.1 759.3L479.5 762.0L479.7 764.0L479.7 766.7L479.5 769.5L479.1 772.2L478.5 774.8L477.6 777.5L476.7 779.8L475.5 782.3L474.0 784.9L472.3 787.6L470.8 789.6L468.5 792.3L466.3 794.7L463.9 796.9L461.9 798.7L458.6 801.4L455.9 803.3L452.0 805.9L448.7 807.8L445.5 809.7L441.7 811.6L437.8 813.4L433.7 815.1L429.5 816.7L425.0 818.3L420.7 819.7L416.1 820.9L411.7 822.0L407.3 823.0L402.9 823.9L398.5 824.6L394.0 825.3L389.5 825.8L385.1 826.2L380.6 826.5L376.1 826.6L370.6 826.7L366.1 826.6L361.6 826.4L357.1 826.1L352.6 825.7L348.1 825.2L343.7 824.6L339.2 823.8L334.8 822.9L329.7 821.8"/>
<path stroke="#365c8d" d="M405.2 832.9L399.8 833.8L394.1 834.6L389.3 835.1L383.6 835.5L377.9 835.8L373.1 835.9L367.4 835.9L361.6 835.7L356.9 835.5L351.1 835.0L345.4 834.4L339.5 833.5L333.8 832.6L328.9 831.6L323.3 830.3L318.7 829.0L314.4 827.8L309.9 826.3L305.4 824.6L301.0 822.8L296.4 820.8L292.4 818.7L287.8 816.2L284.6 814.3L280.4 811.6L277.3 809.4L274.2 806.9L270.9 804.2L268.0 801.4L265.4 798.7L262.6 795.5L260.2 792.3L258.4 789.6L256.6 786.6L255.0 783.2L253.7 780.2L252.7 776.9L252.0 774.0L251.4 770.5L251.2 767.5L251.2 764.8L251.3 763.0L251.4 761.3L251.9 758.3L252.7 754.9L253.7 751.8L255.0 748.5L256.4 745.6L258.0 742.8L259.7 740.0L262.2 736.5L264.5 733.6L267.1 730.9L269.9 728.1L272.9 725.4L276.2 722.7L279.8 720.0L283.4 717.7L287.2 715.3L290.7 713.4L295.2 711.1L299.7 709.0L304.1 707.2L308.5 705.5L312.8 704.0L317.4 702.7L321.7 701.5L327.5 700.1L332.2 699.2L337.9 698.2L343.6 697.4L348.3 696.9L354.3 696.3L360.0 696.0L366.0 695.7L371.8 695.7L377.8 695.8L383.8 696.0L389.5 696.4L395.2 697.0L400.0 697.5L405.7 698.3L410.3 699.2L416.0 700.3L420.6 701.4L425.2 702.5L430.7 704.2L435.3 705.7L439.7 707.3L444.1 709.1L448.5 711.0L453.0 713.2L456.9 715.4L460.6 717.5L464.8 720.2L468.3 722.6L471.9 725.4L475.1 728.1L478.0 730.9L480.8 733.7L483.1 736.4L485.3 739.1L487.2 742.0L489.3 745.5L490.7 748.4L491.9 751.1L493.1 754.7L494.1 758.3L494.5 761.0L494.8 763.8L494.9 766.8L494.8 768.5L494.6 770.3L494.2 773.0L493.6 775.9L492.5 779.3L491.4 782.3L490.1 785.0L488.5 787.8L486.3 791.2L484.0 794.2L481.8 796.9L479.2 799.6L476.3 802.4L473.1 805.1L469.5 807.9L466.2 810.2L462.6 812.5L459.0 814.6L454.6 817.0"/>
<path stroke="#2e6e8e" d="M472.3 712.4L476.7 715.3L480.8 718.1L484.4 720.9L487.6 723.6L490.6 726.4L494.1 730.0L496.5 732.8L499.2 736.4L501.6 739.9L503.4 742.9L505.1 746.5L506.6 750.0L507.8 753.8L508.7 757.4L509.2 760.4L509.6 763.9L509.7 765.6L509.6 767.6L509.4 771.1L508.8 774.8L508.1 777.7L507.0 781.3L505.7 784.8L504.3 787.8L502.2 791.5L499.8 795.0L497.7 797.8L494.7 801.4L492.1 804.2L489.2 806.9L485.4 810.2L481.5 813.3L477.6 816.1L473.4 818.8L469.1 821.3L464.9 823.6L459.8 826.1L454.5 828.4L449.9 830.3L444.2 832.4L438.3 834.4L432.3 836.2L426.5 837.8L420.5 839.3L414.6 840.6L408.7 841.7L401.5 842.9L395.6 843.6L389.6 844.3L383.6 844.7L377.6 845.0L371.9 845.1L365.9 845.1L359.9 844.9L352.9 844.4L346.7 843.9L340.9 843.2L335.0 842.3L329.1 841.3L323.2 840.1L317.4 838.7L311.8 837.2L306.8 835.7L301.1 833.7L296.7 832.0L291.6 829.9L286.4 827.5L281.9 825.2L277.3 822.7L272.6 819.8L268.5 817.0L264.6 814.3L261.1 811.5L257.1 808.0L254.1 805.0L250.8 801.6L248.4 798.7L245.8 795.0L243.9 792.1L241.9 788.6L240.2 785.0L238.7 781.3L237.7 777.7L236.9 774.0L236.5 771.0L236.2 767.5L236.2 765.8L236.3 763.8L236.6 760.3L237.3 756.6L238.2 753.0L239.5 749.2L241.0 745.5L242.8 741.9L245.0 738.3L247.4 734.8L249.7 731.8L252.8 728.2L255.6 725.3L259.2 721.9L262.7 719.0L266.2 716.3L270.1 713.5L274.4 710.9L278.9 708.2L283.3 705.9L288.3 703.5L293.5 701.2L298.2 699.3L303.8 697.3L308.4 695.8L314.1 694.2L318.8 693.1L324.6 691.8L330.5 690.7L336.4 689.7L342.4 689.0L349.6 688.2L355.6 687.8L361.6 687.5L368.9 687.3L374.9 687.4L380.9 687.5L387.6 687.9L393.8 688.4L399.8 689.0L405.8 689.8L411.7 690.7L417.6 691.8L424.2 693.3"/>
<path stroke="#277f8e" d="M460.3 837.2L454.5 839.5L448.6 841.5L442.1 843.6L435.4 845.5L429.4 847.1L422.0 848.8L414.7 850.3L408.8 851.3L401.6 852.4L395.4 853.1L388.2 853.8L382.2 854.2L376.2 854.4L368.9 854.5L361.7 854.4L355.4 854.1L348.2 853.5L342.2 852.9L335.1 852.0L329.1 851.1L321.8 849.7L315.9 848.4L309.8 846.8L303.8 845.1L298.1 843.3L292.0 841.1L286.2 838.8L280.4 836.3L274.6 833.5L269.5 830.8L264.5 827.9L259.6 824.9L254.9 821.6L250.7 818.4L246.7 815.1L242.8 811.5L239.1 807.8L236.0 804.2L233.1 800.4L230.7 796.9L228.5 793.3L226.6 789.5L225.0 785.8L224.1 783.2L223.5 781.3L222.5 777.7L221.8 773.8L221.5 771.3L221.4 769.5L221.3 765.8L221.5 762.0L221.8 760.0L222.2 757.6L223.0 753.7L223.7 751.3L224.3 749.4L225.8 745.4L226.9 742.9L227.8 741.1L229.9 737.4L232.3 733.6L234.9 729.9L237.9 726.2L241.1 722.7L244.9 719.0L249.0 715.4L252.5 712.6L256.8 709.5L261.8 706.2L266.5 703.4L271.6 700.7L277.0 698.0L282.0 695.7L287.8 693.3L293.6 691.1L299.5 689.1L305.5 687.4L311.3 685.8L317.4 684.4L323.3 683.2L330.4 682.0L336.6 681.1L343.8 680.3L349.8 679.8L357.1 679.4L364.6 679.1L371.8 679.0L377.8 679.1L385.1 679.4L392.5 679.9L399.8 680.6L406.0 681.4L413.1 682.4L420.5 683.7L426.7 685.0L433.7 686.6L439.8 688.3L445.7 690.1L451.7 692.1L457.5 694.2L463.3 696.6L468.3 698.9L473.9 701.6L479.0 704.4L484.0 707.3L488.4 710.1L493.1 713.4L497.2 716.7L501.0 719.9L504.6 723.4L507.5 726.5L510.6 730.1L513.3 733.7L515.6 737.3L517.7 741.0L519.6 744.8L520.6 747.3L521.3 749.2L522.5 753.0L523.1 755.5L523.5 757.4L524.1 761.1L524.4 764.9L524.4 768.6L524.3 770.4L524.0 772.9L523.8 774.8L523.4 776.8L522.5 780.4L521.7 783.1L521.0 784.9L519.4 788.6L517.6 792.2L515.5 795.9L512.9 799.6L510.2 803.2L507.6 806.2L504.1 809.8"/>
<path stroke="#21908d" d="M304.2 678.4L311.2 676.7L318.6 675.2L326.0 674.0L333.4 672.9L340.8 672.1L348.3 671.4L357.1 670.9L364.5 670.7L371.8 670.6L379.3 670.7L386.8 671.1L395.5 671.7L404.2 672.6L411.7 673.6L419.1 674.7L426.2 676.0L433.8 677.6L441.1 679.4L448.6 681.4L454.5 683.3L460.5 685.3L467.5 687.9L473.7 690.5L479.6 693.2L485.5 696.1L490.5 698.9L495.9 702.1L500.9 705.3L506.0 709.0L510.5 712.6L514.8 716.4L518.4 719.9L521.9 723.7L523.8 726.0L525.4 728.0L528.1 731.9L529.3 733.8L530.9 736.4L532.9 740.1L533.7 741.9L534.9 744.7L535.6 746.5L536.5 749.1L537.1 751.1L537.8 753.7L538.3 755.7L538.8 758.4L539.1 760.3L539.4 762.8L539.5 766.8L539.5 769.3L539.4 771.3L539.1 773.8L538.8 775.8L538.5 777.8L538.0 780.2L537.4 782.4L536.7 784.8L535.2 788.8L534.1 791.3L533.1 793.3L531.9 795.8L530.8 797.7L528.4 801.5L526.9 803.6L525.3 805.8L522.1 809.7L518.8 813.4L515.0 817.0L510.5 821.0L507.6 823.4L505.2 825.2L500.4 828.7L495.8 831.7L490.0 835.2L484.0 838.4L478.2 841.3L472.3 844.0L466.5 846.3L460.4 848.6L453.1 851.1L445.7 853.4L438.4 855.3L430.9 857.2L423.6 858.8L416.2 860.2L408.5 861.4L401.3 862.4L393.9 863.2L386.7 863.8L379.2 864.2L371.9 864.4L364.4 864.4L357.2 864.1L349.7 863.7L342.2 863.0L335.0 862.1L327.6 861.0L320.2 859.7L312.9 858.1L305.6 856.3L298.1 854.2L292.2 852.3L285.6 850.0L278.8 847.4L272.1 844.5L266.3 841.8L259.8 838.4L254.4 835.4L249.3 832.2L244.3 828.9L239.4 825.3L235.0 821.7L230.9 818.0L227.1 814.3L223.6 810.4L221.5 807.9L220.0 806.0L218.4 803.7L216.8 801.5L214.5 797.6L213.2 795.2L212.2 793.2L211.3 791.4L210.3 788.8L208.8 784.8L208.1 782.2L207.6 780.3L207.1 777.8L206.7 775.8L206.4 773.1L206.2 771.1L206.1 768.6L206.1 766.6L206.1 764.6L206.3 762.1L206.6 759.4L207.0 757.4L207.9 753.0L208.4 751.1L209.2 748.5L210.0 746.3L211.0 743.8L211.9 741.7L213.0 739.2L214.1 737.2L215.6 734.6L216.7 732.7L218.4 730.2L221.2 726.3L224.3 722.5L226.5 720.0L228.2 718.2L232.2 714.4L236.3 710.8L240.8 707.2L245.9 703.6L250.7 700.5L255.9 697.4"/>
<path stroke="#1fa187" d="M276.5 859.0L269.8 856.3L262.4 853.2L255.2 849.7L248.5 846.3L242.0 842.6L236.3 839.0L230.9 835.3L225.7 831.4L220.8 827.2L216.5 823.3L214.0 820.9L212.1 818.9L209.8 816.3L208.0 814.2L206.0 811.6L204.5 809.6L202.7 806.9L201.4 805.1L199.7 802.3L198.3 799.7L196.9 797.0L196.0 794.9L194.9 792.4L194.1 790.3L193.2 787.7L192.4 785.1L191.9 783.1L191.3 780.5L190.9 778.5L190.5 775.8L190.2 773.0L190.1 771.0L190.0 768.5L190.1 765.8L190.3 763.0L190.5 761.1L190.8 758.3L191.3 755.6L191.9 752.9L192.6 750.3L193.4 747.6L194.2 745.5L195.1 742.9L196.3 740.2L197.2 738.1L198.6 735.5L200.0 732.8L201.7 730.0L202.9 728.1L204.8 725.5L206.5 723.0L208.2 720.9L210.5 718.2L212.3 716.1L214.7 713.6L216.7 711.7L218.7 709.8L221.3 707.4L223.8 705.3L226.1 703.4L230.9 699.9L236.3 696.2L242.3 692.6L247.9 689.4L254.6 686.0L261.2 683.0L268.6 679.9L275.9 677.1L283.2 674.6L290.6 672.4L298.1 670.4L305.6 668.6L314.2 666.8L321.9 665.5L330.5 664.3L338.0 663.5L346.7 662.7L355.7 662.2L364.4 661.9L373.2 661.9L380.7 662.1L389.4 662.5L398.4 663.2L407.4 664.1L416.0 665.2L423.7 666.4L432.3 668.0L441.1 669.9L448.4 671.7L455.9 673.8L463.3 676.1L470.8 678.7L478.1 681.4L484.8 684.3L491.6 687.4L497.8 690.6L504.4 694.3L510.3 698.0L515.7 701.6L520.5 705.2L524.9 708.9L529.2 712.8L531.3 714.9L533.5 717.2L537.1 721.4L540.4 725.5L542.2 728.2L543.5 730.1L545.0 732.6L546.2 734.6L547.2 736.6L548.5 739.3L549.8 742.0L550.8 744.6L551.5 746.7L552.4 749.3L553.1 751.9L553.8 754.9L554.4 757.6L554.7 760.0L555.0 762.3L555.2 764.8L555.3 767.5L555.2 769.5L555.1 772.0L555.0 774.0L554.6 776.7L554.2 779.4L553.8 781.4L553.1 784.1L552.3 786.7L551.6 788.8L550.7 791.4L549.6 794.0L548.7 796.0L547.3 798.7L546.3 800.7L544.7 803.3L543.5 805.2L541.7 807.8L540.1 810.1L538.2 812.4L536.6 814.4L534.3 817.0L530.7 820.8L528.4 823.0L526.0 825.2L521.6 829.0L516.5 833.0L513.4 835.2L510.5 837.1L504.6 840.9L498.8 844.3L493.1 847.4L487.0 850.3L481.0 853.0L473.6 856.0L466.4 858.7L459.0 861.1L451.6 863.3L442.6 865.7L433.9 867.8L425.1 869.6L416.2 871.2L407.3 872.6L399.9 873.5L391.1 874.3L383.7 874.8L374.9 875.2L367.4 875.2L358.7 875.0L351.2 874.6L342.4 873.9L335.0 873.1L326.8 872.0"/>
<path stroke="#2db27d" d="M426.4 882.0L417.5 883.5L407.4 885.0L398.4 886.0L389.7 886.8L380.7 887.3L373.2 887.5L364.4 887.5L355.7 887.3L346.7 886.7L338.0 886.0L329.0 884.9L320.1 883.6L311.3 881.9L302.5 880.1L293.7 877.9L286.3 875.8L277.4 873.0L269.9 870.4L265.7 868.8L261.3 867.1L253.4 863.7L249.3 861.9L245.0 859.8L237.7 856.0L233.6 853.7L230.3 851.8L224.4 848.1L218.4 844.0L215.4 841.8L212.6 839.7L207.4 835.4L205.0 833.2L202.2 830.6L199.6 828.0L197.7 826.0L195.3 823.4L193.0 820.7L190.9 818.0L189.4 816.0L187.5 813.4L185.5 810.4L184.0 807.9L182.4 805.1L181.0 802.4L179.7 799.7L178.8 797.6L177.6 794.9L176.7 792.3L175.8 789.4L175.1 786.8L174.4 784.1L173.9 781.4L173.4 778.4L173.1 775.7L172.9 772.9L172.8 770.2L172.8 767.4L173.0 764.7L173.2 762.0L173.6 759.2L174.1 756.5L174.6 753.8L175.3 750.9L176.3 747.5L177.3 744.7L178.3 741.9L179.5 739.1L180.7 736.4L182.0 733.7L183.6 730.8L185.1 728.2L188.1 723.6L190.1 720.8L192.1 718.2L195.9 713.6L198.4 710.8L200.2 709.0L202.8 706.3L205.0 704.3L208.0 701.6L210.1 699.9L212.5 698.0L215.4 695.7L218.5 693.5L221.4 691.5L227.1 687.9L233.3 684.3L236.9 682.3L240.4 680.5L247.9 677.0L255.2 673.8L262.6 670.8L267.1 669.2L271.4 667.7L279.0 665.3L287.7 662.8L296.6 660.6L305.4 658.7L314.3 657.1L322.9 655.8L331.9 654.7L340.8 653.8L349.8 653.2L360.1 652.8L368.8 652.7L377.8 652.8L386.8 653.1L397.1 653.8L407.3 654.7L416.2 655.8L426.4 657.3L435.5 658.9L444.3 660.7L453.1 662.8L462.0 665.2L470.6 667.8L478.7 670.5L486.9 673.6L494.5 676.8L501.7 680.1L508.2 683.3L515.0 687.1L519.3 689.6L522.3 691.5L527.9 695.3L531.1 697.6L533.9 699.8L538.5 703.6L541.3 706.1L543.3 708.0L545.3 709.9L547.9 712.6L550.2 715.2L552.0 717.3L554.0 719.9L556.1 722.7L558.0 725.3L559.7 728.1L561.4 730.9L562.5 732.8L563.9 735.5L565.1 738.2L566.3 741.0L567.4 743.8L568.4 746.6L569.2 749.2L570.0 752.1L570.7 755.6L571.3 758.5L571.7 761.2L571.9 764.0L572.1 766.7L572.1 769.5L572.1 772.2L571.9 775.0L571.6 777.5L571.2 780.4L570.7 783.1L570.1 785.8L569.3 788.5L568.5 791.3L567.5 793.9L566.7 796.0L565.5 798.8L564.3 801.5L562.9 804.2L561.3 807.0L559.7 809.6L557.9 812.3L556.3 814.5L554.4 817.1L552.4 819.7L550.4 822.0L548.3 824.4L545.7 827.1L543.2 829.6L540.8 831.8L537.8 834.4L532.8 838.6L529.8 840.8L526.8 843.1L523.7 845.2L520.6 847.3L516.6 849.8L513.6 851.6L506.8 855.4L500.1 858.8L492.9 862.2L485.5 865.3L481.1 867.0L476.6 868.7"/>
<path stroke="#4ac16d" d="M496.1 877.8L491.4 879.7L487.0 881.4L478.3 884.4L469.2 887.3L460.3 889.8L450.1 892.4L439.9 894.7L429.3 896.8L419.0 898.6L408.8 900.0L398.4 901.2L389.4 902.0L383.7 902.3L379.4 902.5L370.4 902.7L361.4 902.7L352.4 902.3L342.5 901.6L333.2 900.7L327.5 900.1L323.1 899.4L314.2 898.0L308.5 897.0L303.9 896.0L299.5 895.1L293.6 893.7L284.9 891.5L276.0 888.9L267.0 885.9L258.3 882.8L249.5 879.2L244.9 877.3L240.5 875.3L233.1 871.7L228.6 869.5L224.2 867.1L219.9 864.6L216.9 862.9L212.6 860.2L209.5 858.2L206.6 856.2L203.1 853.7L200.5 851.8L197.0 849.0L193.7 846.3L190.7 843.7L187.7 840.9L185.6 838.9L183.0 836.2L180.4 833.4L178.1 830.8L175.7 827.9L173.5 825.2L171.6 822.6L169.6 819.7L167.8 817.0L166.1 814.2L164.5 811.4L162.8 808.1L161.4 805.1L160.2 802.4L159.0 799.6L158.0 796.8L157.0 793.4L156.2 790.5L155.5 787.6L154.9 784.9L154.4 781.4L154.1 778.5L153.8 775.7L153.7 772.2L153.7 769.5L153.8 766.7L154.1 763.7L154.5 760.3L155.0 757.6L155.6 754.6L156.4 751.2L157.2 748.3L158.4 744.7L159.4 741.9L160.5 739.1L161.7 736.4L163.4 732.8L164.8 730.1L166.4 727.3L168.6 723.6L170.4 720.9L172.4 718.0L174.3 715.4L176.5 712.7L178.9 709.8L181.4 707.0L184.0 704.3L186.7 701.7L189.6 698.9L191.8 696.9L194.9 694.3L197.8 692.0L200.8 689.7L203.6 687.6L207.3 685.1L210.8 682.7L214.2 680.6L217.5 678.7L221.4 676.5L228.7 672.7L233.2 670.5L237.1 668.7L244.9 665.4L249.3 663.6L253.7 661.9L258.2 660.3L262.7 658.8L271.6 656.1L280.5 653.6L284.8 652.5L290.7 651.1L299.7 649.2L309.8 647.4L315.7 646.4L320.2 645.8L330.4 644.6L340.9 643.7L351.1 643.1L361.6 642.8L371.8 642.7L382.1 642.9L392.6 643.4L398.3 643.8L404.3 644.3L414.8 645.4L424.9 646.7L435.3 648.3L445.6 650.3L451.5 651.5L455.9 652.5L460.5 653.6L466.1 655.1L475.0 657.6L484.0 660.5L492.7 663.6L497.2 665.3L501.6 667.1L509.4 670.5L513.4 672.4L517.9 674.6L525.2 678.5L528.7 680.5L532.1 682.5L535.8 684.8L539.1 687.0L543.0 689.7L545.6 691.6L548.8 694.1L551.3 696.1L553.6 698.0L556.6 700.7L559.5 703.5L562.1 706.1L564.7 708.9L566.5 710.9L568.8 713.6L570.9 716.3L572.9 719.0L574.9 721.8L576.6 724.6L578.3 727.3L580.3 730.8L581.6 733.5L583.0 736.5L584.2 739.2L585.3 742.0L586.3 744.8L587.1 747.4L588.2 751.1L589.0 754.7L589.6 757.4L590.0 760.4L590.4 763.9L590.6 766.6L590.8 769.6L590.7 772.8L590.6 775.8L590.4 778.6L590.0 782.1L589.5 785.0L588.9 787.7L588.2 790.6L587.2 794.0L586.3 796.9L585.3 799.7L584.2 802.5L582.9 805.2L581.6 807.9L580.1 810.8L578.7 813.4L577.0 816.2L575.2 818.9L573.4 821.6L571.3 824.4L569.1 827.1L566.9 829.8L564.4 832.6L561.8 835.4L559.4 837.9L557.2 840.0L554.3 842.7L551.0 845.4L547.8 848.1L544.6 850.6L541.6 852.8"/>
<path stroke="#73d056" d="M211.7 884.3L208.0 882.2L203.5 879.5L199.3 876.8L195.9 874.6L191.8 871.8L188.3 869.3L184.5 866.5L181.0 863.7L177.7 860.9L174.2 857.8L170.7 854.6L167.8 851.8L164.3 848.2L161.8 845.4L158.7 841.8L156.5 839.1L154.2 836.2L151.5 832.5L149.5 829.7L147.2 826.1L145.2 822.6L143.5 819.6L141.7 816.0L140.0 812.4L138.5 808.9L137.3 805.9L136.1 802.4L135.0 798.8L134.1 795.1L133.4 792.2L132.8 788.8L132.3 785.0L132.0 782.1L131.7 778.6L131.7 774.8L131.7 771.3L132.0 767.6L132.3 764.6L132.7 761.1L133.4 757.4L134.2 753.8L135.2 750.1L136.3 746.5L137.6 742.8L138.9 739.3L140.5 735.6L142.2 732.0L143.6 729.1L145.2 726.2L147.2 722.8L149.5 719.2L151.5 716.3L154.1 712.6L156.3 709.9L158.6 707.0L161.8 703.4L165.0 699.9L167.8 697.1L170.7 694.3L173.7 691.6L176.9 688.8L180.2 686.1L183.7 683.4L187.4 680.7L190.4 678.5L194.4 675.9L198.6 673.2L202.0 671.2L206.4 668.7L209.9 666.8L213.9 664.7L218.4 662.5L222.7 660.5L227.3 658.5L233.0 656.1L237.5 654.3L246.4 651.0L252.3 649.0L256.8 647.6L261.4 646.2L267.1 644.6L271.5 643.4L277.6 641.9L287.8 639.6L293.7 638.4L299.6 637.3L305.5 636.3L311.2 635.4L321.6 634.1L332.1 633.0L337.8 632.6L343.8 632.2L349.8 631.9L355.5 631.6L361.5 631.5L367.3 631.5L379.3 631.6L385.0 631.8L391.0 632.1L402.8 632.8L408.7 633.4L414.7 633.9L426.4 635.3L432.3 636.2L438.3 637.1L444.2 638.1L449.8 639.1L460.4 641.3L466.2 642.7L470.8 643.8L476.6 645.3L481.2 646.6L487.0 648.4L491.5 649.8L497.2 651.7L501.6 653.3L506.3 655.1L511.9 657.3L516.5 659.2L521.1 661.2L525.4 663.2L529.7 665.3L534.2 667.5L538.1 669.6L541.6 671.6L546.0 674.1L549.2 676.0L553.4 678.8L556.5 680.9L559.9 683.3L563.5 686.0L567.1 688.8L570.3 691.6L573.3 694.2L576.4 697.1L579.1 699.7L581.7 702.5L584.4 705.4L586.7 708.1L589.5 711.6L591.6 714.4L593.6 717.2L596.0 720.8L597.8 723.8L599.8 727.2L601.3 730.1L602.9 733.5L604.3 736.5L605.8 740.2L607.1 743.7L608.2 747.3L609.1 750.4L610.0 753.8L610.7 757.4L611.3 760.4L611.7 763.9L612.0 766.9L612.3 770.4L612.3 773.9L612.3 777.6L612.0 781.1L611.7 784.1L611.2 787.8L610.6 791.2L610.0 794.2L609.0 797.8L608.2 800.7L607.0 804.3L605.7 807.8L604.6 810.5L602.9 814.2L601.5 817.1L599.6 820.7L598.0 823.5L595.8 827.1L593.9 830.0L591.4 833.5L589.4 836.3L586.6 839.8L584.1 842.7L581.3 845.9L578.4 849.0L575.6 851.8L572.7 854.6L568.8 858.1L565.6 860.9L562.3 863.6L558.7 866.3L554.9 869.2L551.0 871.9L547.5 874.3L543.1 877.1L539.5 879.3L535.6 881.6L531.2 884.1L526.8 886.4L522.3 888.7L517.8 890.9L512.2 893.5L507.8 895.4L503.2 897.3L498.8 899.1L494.3 900.7L488.4 902.9L483.9 904.4L478.0 906.3L472.3 908.1L466.2 909.8L460.4 911.3L454.6 912.8L444.1 915.2L438.3 916.5L432.4 917.6L426.5 918.7L420.6 919.7L410.2 921.2L404.2 922.0L398.5 922.6L388.3 923.5L379.3 924.1L370.3 924.3L364.5 924.3L360.0 924.2L355.5 924.0L349.8 923.8L340.8 923.1L336.3 922.7L330.6 922.1L324.7 921.3L320.2 920.7L315.8 920.0L309.8 918.9L305.4 918.1L299.5 916.9L293.7 915.6L289.3 914.5L284.7 913.3L278.9 911.8L269.8 909.0L264.1 907.2L259.1 905.5"/>
<path stroke="#a0da39" d="M499.6 943.2L487.1 949.3L475.3 954.9L463.2 960.3L444.2 968.7L429.5 974.9L417.7 979.8L408.8 983.2L401.3 985.8L394.1 988.1L388.0 989.6L383.6 990.6L380.7 991.1L377.7 991.5L374.7 991.8L372.0 992.0L367.2 992.1L364.5 992.0L361.5 991.9L358.5 991.6L355.5 991.2L351.3 990.5L346.9 989.5L342.3 988.4L337.8 987.1L332.0 985.3L326.1 983.3L320.2 981.2L314.2 978.9L307.0 976.0L298.2 972.3L292.0 969.6L283.3 965.7L275.8 962.3L268.4 958.7L261.0 955.1L252.3 950.6L246.3 947.5L239.1 943.6L231.6 939.5L225.8 936.1L220.0 932.7L214.0 929.0L208.0 925.3L202.2 921.5L196.2 917.4L190.4 913.4L184.5 909.2L180.0 905.7L175.6 902.3L171.2 898.7L166.8 895.0L162.3 891.0L158.6 887.6L154.8 884.0L151.1 880.2L147.5 876.5L144.3 872.9L141.0 869.2L137.9 865.5L135.0 861.8L132.2 858.2L129.6 854.6L127.1 850.9L124.6 847.1L122.0 842.8L119.9 839.1L118.0 835.3L116.1 831.5L114.1 827.2L112.6 823.5L111.1 819.8L109.8 816.0L108.5 811.7L107.5 807.8L106.6 804.2L105.9 800.5L105.3 796.8L104.8 793.1L104.5 788.8L104.3 785.1L104.2 781.3L104.3 777.6L104.5 774.1L104.8 770.4L105.3 766.6L105.9 762.9L106.8 758.5L107.8 754.7L108.8 751.0L110.3 746.5L111.6 742.8L113.1 739.0L114.7 735.4L116.7 731.1L118.7 727.3L120.7 723.6L122.9 719.9L125.2 716.3L127.7 712.6L130.4 709.0L133.3 705.2L136.2 701.8L139.5 698.0L142.0 695.3L145.5 691.7L148.6 688.7L152.5 685.2L155.7 682.4L160.1 678.7L163.7 676.0L167.3 673.3L171.1 670.5L175.3 667.7L179.5 665.0L183.1 662.8L187.4 660.3L192.0 657.7L197.3 654.9L202.0 652.6L206.8 650.3L212.5 647.8L218.3 645.4L224.1 643.1L229.2 641.2L236.1 638.8L241.8 636.9L247.8 635.1L253.8 633.4L259.8 631.7L266.8 629.9L272.9 628.5L278.8 627.2L284.7 626.1L290.8 624.9L298.0 623.7L304.1 622.7L311.3 621.8L317.3 621.0L323.2 620.4L330.5 619.7L336.5 619.3L343.7 618.9L349.9 618.6L357.2 618.4L364.4 618.2L371.7 618.3L377.9 618.3L385.2 618.6L392.4 618.9L399.9 619.3L405.9 619.7L413.1 620.4L419.1 620.9L426.6 621.8L433.8 622.7L441.2 623.8L448.6 624.9L454.5 626.0L460.4 627.1L467.8 628.6L473.6 629.9L479.7 631.4L485.5 632.9L491.3 634.5L497.3 636.3L503.2 638.2L510.6 640.7L516.4 642.8L522.3 645.0L528.3 647.4L534.1 649.9L539.3 652.2L544.5 654.6L549.0 656.9L554.1 659.5L559.4 662.4L563.7 665.0L568.2 667.7L572.6 670.6L577.7 674.2L581.5 677.0L585.1 679.7L589.3 683.2L592.7 686.2L596.6 689.7L599.5 692.5L603.0 696.1L606.4 699.8L609.4 703.4L612.4 707.1L615.1 710.7L617.7 714.4L620.2 718.1L622.4 721.8L624.5 725.5L626.3 729.0L628.2 732.8L630.1 737.2L631.9 741.8L633.2 745.6L634.4 749.2L635.6 753.8L636.7 758.4L637.4 762.1L638.0 765.8L638.6 770.3L638.8 774.0L639.0 777.7L639.0 782.0L638.9 786.0L638.5 790.5L638.1 794.2L637.4 798.6L636.7 802.3L635.6 807.0L634.6 810.6L633.5 814.4L631.9 818.9L630.5 822.6L628.7 827.0L626.6 831.6L624.7 835.4L622.3 839.8L620.2 843.5L617.8 847.3L614.9 851.7L612.2 855.6L609.4 859.4L606.0 863.7L603.0 867.4L599.9 871.0L596.2 875.1L592.2 879.2L588.9 882.6L585.6 885.7L581.4 889.6L577.1 893.4L572.7 897.1L568.2 900.7L563.8 904.1L559.4 907.4L554.8 910.7L550.4 913.7L544.8 917.5"/>
<path stroke="#d0e11c" d="M675.9 827.6L675.1 833.5L674.1 840.0L670.1 863.7L668.9 871.9L668.3 876.6L667.8 881.1L667.6 885.6L667.5 889.4L667.6 893.9L668.0 898.4L668.5 902.4L669.0 904.8L669.5 906.8L670.6 910.6L671.5 913.0L672.2 914.9L674.0 918.7L675.9 922.3M73.7 750.4L75.2 746.5L76.8 742.8L78.4 739.1L80.1 735.5L83.5 729.1L85.5 725.4L87.7 721.7L90.0 718.1L92.3 714.5L94.9 710.8L96.9 708.0L99.6 704.4L102.6 700.7L105.7 697.1L108.1 694.2L111.3 690.7L114.1 687.8L117.6 684.3L120.5 681.5L123.6 678.7L126.6 676.0L129.9 673.3L133.4 670.4L136.7 667.8L140.5 664.9L144.5 661.9L148.8 658.9L156.4 654.0L160.8 651.3L164.9 648.8M212.1 627.1L219.9 624.4L228.7 621.6L237.6 618.9L246.5 616.5L256.5 614.1L265.5 612.1L274.4 610.3L284.7 608.4L295.1 606.7L304.0 605.5L314.2 604.3L323.1 603.4L333.3 602.6L342.3 602.1L352.6 601.7L362.8 601.5L373.3 601.5L383.6 601.7L394.1 602.1L404.3 602.7L414.5 603.5L425.0 604.4L435.4 605.6L445.6 607.0L456.0 608.6L466.3 610.4L475.2 612.1L484.0 614.0L492.9 616.2L501.6 618.6L510.5 621.2L519.6 624.0L528.4 626.9L537.1 630.1L544.6 632.9L551.9 636.0L559.3 639.2L566.7 642.8L574.1 646.5L580.0 649.8L587.1 653.9L593.1 657.6L599.1 661.7L605.0 665.9L610.9 670.5L616.5 675.1L621.8 679.7L626.7 684.3L632.0 689.7L636.2 694.3L640.1 698.9L644.4 704.4L648.4 709.8L652.2 715.4L656.0 721.6L659.1 727.3L661.9 732.9L664.9 739.2L667.5 745.7L669.8 752.1L671.8 758.5L673.5 764.8L674.8 771.2L675.9 777.3"/>
<path stroke="#fde725" d="M111.0 645.1L118.4 640.3L125.4 636.0L132.7 631.7L140.2 627.6L147.5 623.8L155.1 620.1L163.1 616.4L171.1 613.0L180.0 609.4L187.2 606.7L194.8 604.1L203.6 601.2L212.4 598.5L221.3 596.0L231.5 593.4L240.5 591.2L250.8 589.0L261.1 587.0L271.4 585.1L281.8 583.5L292.2 582.0L302.6 580.7L312.8 579.6L323.3 578.6L333.5 577.9L343.8 577.4L354.3 577.0L364.5 576.9L374.8 576.9L385.0 577.1L395.5 577.4L407.3 578.1L417.5 578.8L428.0 579.7L438.4 580.8L448.6 582.0L458.8 583.4L469.2 585.0L478.3 586.6L488.3 588.6L497.4 590.5L507.6 593.0L518.0 595.6L528.4 598.5L538.5 601.5L547.5 604.4L556.3 607.4L565.2 610.7L574.0 614.2L581.4 617.3L588.9 620.7L596.2 624.1L603.5 627.8L611.3 632.0L618.4 636.0L625.5 640.3L632.4 644.8L639.2 649.5L645.5 654.0L652.7 659.5L658.5 664.2L664.8 669.6L670.7 675.0L675.9 680.0"/>
</g>
<g clip-path="url(#clipB)" font-size="16.55" text-anchor="middle" stroke-width="0.3">
<text fill="#440154" stroke="#440154" transform="translate(386.7 792.9) rotate(-8.8)" y="6.04">1.35</text>
<text fill="#481b6d" stroke="#481b6d" transform="translate(405.8 728.0) rotate(16.3)" y="6.04">1.70</text>
<text fill="#46327e" stroke="#46327e" transform="translate(318.7 723.4) rotate(-23.9)" y="6.04">2.05</text>
<text fill="#3f4788" stroke="#3f4788" transform="translate(305.2 813.1) rotate(25.9)" y="6.04">2.40</text>
<text fill="#365c8d" stroke="#365c8d" transform="translate(430.5 826.8) rotate(-17.8)" y="6.04">2.75</text>
<text fill="#2e6e8e" stroke="#2e6e8e" transform="translate(449.0 700.9) rotate(21.6)" y="6.04">3.10</text>
<text fill="#277f8e" stroke="#277f8e" transform="translate(483.6 825.6) rotate(-31.8)" y="6.04">3.45</text>
<text fill="#21908d" stroke="#21908d" transform="translate(279.4 686.3) rotate(-21.4)" y="6.04">3.80</text>
<text fill="#1fa187" stroke="#1fa187" transform="translate(301.3 866.8) rotate(14.5)" y="6.04">4.15</text>
<text fill="#2db27d" stroke="#2db27d" transform="translate(451.8 876.4) rotate(-14.8)" y="6.04">4.50</text>
<text fill="#4ac16d" stroke="#4ac16d" transform="translate(519.6 866.7) rotate(-28.7)" y="6.04">4.85</text>
<text fill="#73d056" stroke="#73d056" transform="translate(235.0 895.9) rotate(24.1)" y="6.04">5.20</text>
<text fill="#a0da39" stroke="#a0da39" transform="translate(522.6 931.0) rotate(-29.6)" y="6.04">5.55</text>
<text fill="#d0e11c" stroke="#d0e11c" transform="translate(188.0 636.9) rotate(-24.7)" y="6.04">5.90</text>
<text fill="#fde725" stroke="#fde725" transform="translate(90.0 660.5) rotate(-38.6)" y="6.04">6.25</text>
</g>
<g stroke="#000" stroke-width="1.32" fill="none">
<path d="M79.60 1003.85v5.78 M153.40 1003.85v5.78 M227.20 1003.85v5.78 M301.00 1003.85v5.78 M374.80 1003.85v5.78 M448.60 1003.85v5.78 M522.40 1003.85v5.78 M596.20 1003.85v5.78 M670.00 1003.85v5.78 M79.60 948.90h-5.78 M79.60 857.32h-5.78 M79.60 765.73h-5.78 M79.60 674.15h-5.78 M79.60 582.57h-5.78"/>
<rect x="79.60" y="564.25" width="590.40" height="439.60" stroke-linejoin="miter"/>
</g>
<g font-size="16.55" fill="#000" stroke="#000" stroke-width="0.3">
<text x="79.60" y="1028.00" text-anchor="middle">−100</text>
<text x="153.40" y="1028.00" text-anchor="middle">−75</text>
<text x="227.20" y="1028.00" text-anchor="middle">−50</text>
<text x="301.00" y="1028.00" text-anchor="middle">−25</text>
<text x="374.80" y="1028.00" text-anchor="middle">0</text>
<text x="448.60" y="1028.00" text-anchor="middle">25</text>
<text x="522.40" y="1028.00" text-anchor="middle">50</text>
<text x="596.20" y="1028.00" text-anchor="middle">75</text>
<text x="670.00" y="1028.00" text-anchor="middle">100</text>
<text x="68.03" y="955.19" text-anchor="end">−100</text>
<text x="68.03" y="863.61" text-anchor="end">−50</text>
<text x="68.03" y="772.02" text-anchor="end">0</text>
<text x="68.03" y="680.44" text-anchor="end">50</text>
<text x="68.03" y="588.86" text-anchor="end">100</text>
<text x="374.80" y="1050.65" text-anchor="middle">Minimal distance (cm)</text>
<text transform="translate(12.70 784.05) rotate(-90)" text-anchor="middle">Minimal distance (cm)</text>
</g>
<g class="cap"><text x="233.6" y="529">(a) Study A: Humanoid robot</text><text x="196.7" y="1090.7">(b) Study B: Non-humanoid robot</text></g>
</svg>
</body></html>
